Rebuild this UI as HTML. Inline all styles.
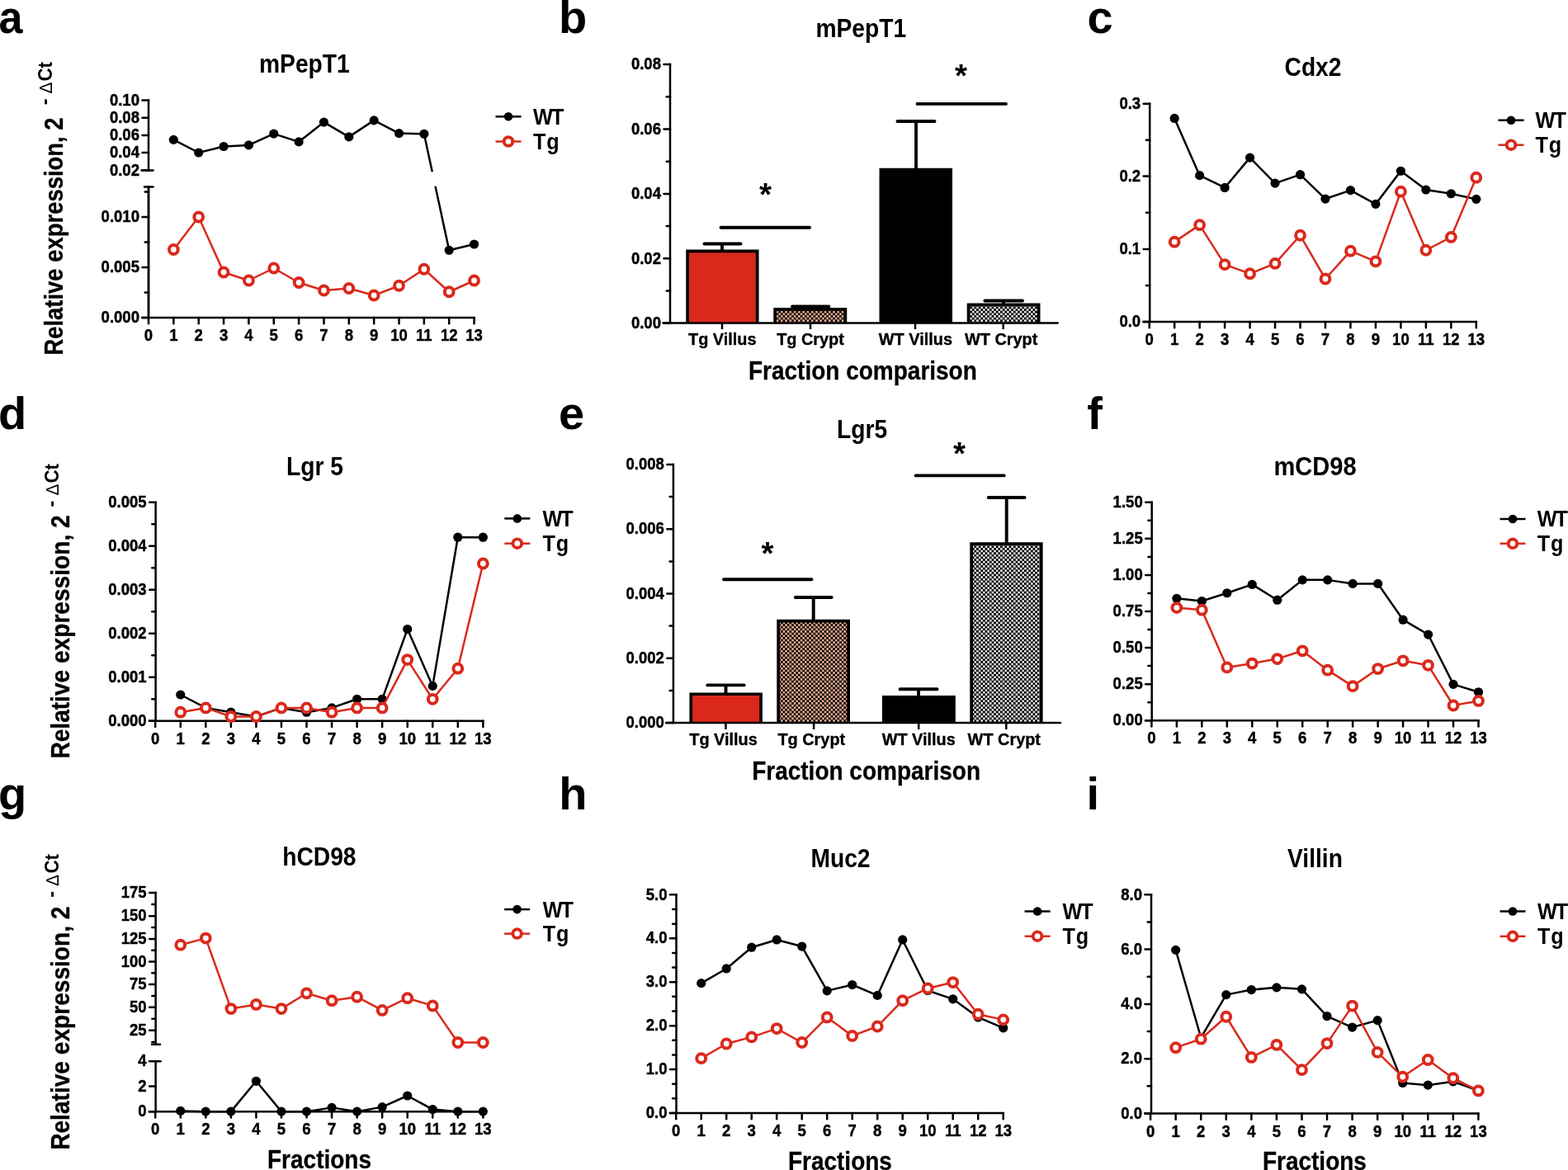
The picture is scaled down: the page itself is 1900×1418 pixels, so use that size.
<!DOCTYPE html>
<html><head><meta charset="utf-8"><title>Figure</title>
<style>
html,body{margin:0;padding:0;background:#fff;overflow:hidden;}
svg{display:block;}
text{font-family:"Liberation Sans",Arial,Helvetica,sans-serif;font-weight:bold;fill:#000;}
</style></head><body>
<svg width="1900" height="1418" viewBox="0 0 1900 1418">
<rect width="1900" height="1418" fill="#fff"/>
<text transform="translate(-1.5,39.8) scale(0.93,1.0)" font-size="56" text-anchor="start">a</text>
<text x="677" y="39.8" font-size="56" text-anchor="start">b</text>
<text x="1317.4" y="39.8" font-size="56" text-anchor="start">c</text>
<text x="-2" y="520.2" font-size="56" text-anchor="start">d</text>
<text x="677" y="520.2" font-size="56" text-anchor="start">e</text>
<text x="1317.2" y="520.2" font-size="56" text-anchor="start">f</text>
<text x="-2" y="980.6" font-size="56" text-anchor="start">g</text>
<text x="677.3" y="980.6" font-size="56" text-anchor="start">h</text>
<text x="1316.5" y="980.6" font-size="56" text-anchor="start">i</text>
<text transform="translate(368.9,88) scale(0.91,1.0)" font-size="31" text-anchor="middle">mPepT1</text>
<line x1="180" y1="121.5" x2="180" y2="206.6" stroke="#000" stroke-width="2.5" stroke-linecap="square"/>
<line x1="172.5" y1="121.5" x2="180" y2="121.5" stroke="#000" stroke-width="2.5" stroke-linecap="round"/>
<text transform="translate(169,127.7) scale(0.905,1.0)" font-size="20.5" text-anchor="end" stroke="#000" stroke-width="0.45">0.10</text>
<line x1="172.5" y1="142.7" x2="180" y2="142.7" stroke="#000" stroke-width="2.5" stroke-linecap="round"/>
<text transform="translate(169,148.9) scale(0.905,1.0)" font-size="20.5" text-anchor="end" stroke="#000" stroke-width="0.45">0.08</text>
<line x1="172.5" y1="163.9" x2="180" y2="163.9" stroke="#000" stroke-width="2.5" stroke-linecap="round"/>
<text transform="translate(169,170.1) scale(0.905,1.0)" font-size="20.5" text-anchor="end" stroke="#000" stroke-width="0.45">0.06</text>
<line x1="172.5" y1="185.1" x2="180" y2="185.1" stroke="#000" stroke-width="2.5" stroke-linecap="round"/>
<text transform="translate(169,191.3) scale(0.905,1.0)" font-size="20.5" text-anchor="end" stroke="#000" stroke-width="0.45">0.04</text>
<line x1="172.5" y1="206.3" x2="180" y2="206.3" stroke="#000" stroke-width="2.5" stroke-linecap="round"/>
<text transform="translate(169,212.5) scale(0.905,1.0)" font-size="20.5" text-anchor="end" stroke="#000" stroke-width="0.45">0.02</text>
<line x1="171.5" y1="206.6" x2="185.5" y2="206.6" stroke="#000" stroke-width="2.5" stroke-linecap="round"/>
<line x1="180" y1="226.4" x2="180" y2="385" stroke="#000" stroke-width="2.5" stroke-linecap="butt"/>
<line x1="175" y1="226.4" x2="185.5" y2="226.4" stroke="#000" stroke-width="2.5" stroke-linecap="round"/>
<line x1="180" y1="226.4" x2="180" y2="385" stroke="#000" stroke-width="2.5" stroke-linecap="square"/>
<line x1="172.5" y1="263" x2="180" y2="263" stroke="#000" stroke-width="2.5" stroke-linecap="round"/>
<text transform="translate(169,269.2) scale(0.905,1.0)" font-size="20.5" text-anchor="end" stroke="#000" stroke-width="0.45">0.010</text>
<line x1="172.5" y1="324" x2="180" y2="324" stroke="#000" stroke-width="2.5" stroke-linecap="round"/>
<text transform="translate(169,330.2) scale(0.905,1.0)" font-size="20.5" text-anchor="end" stroke="#000" stroke-width="0.45">0.005</text>
<line x1="172.5" y1="385" x2="180" y2="385" stroke="#000" stroke-width="2.5" stroke-linecap="round"/>
<text transform="translate(169,391.2) scale(0.905,1.0)" font-size="20.5" text-anchor="end" stroke="#000" stroke-width="0.45">0.000</text>
<line x1="175.7" y1="232.6" x2="180" y2="232.6" stroke="#000" stroke-width="2.5" stroke-linecap="round"/>
<line x1="175.7" y1="293.5" x2="180" y2="293.5" stroke="#000" stroke-width="2.5" stroke-linecap="round"/>
<line x1="175.7" y1="354.5" x2="180" y2="354.5" stroke="#000" stroke-width="2.5" stroke-linecap="round"/>
<line x1="171.2" y1="385" x2="575.8" y2="385" stroke="#000" stroke-width="2.5" stroke-linecap="butt"/>
<line x1="180" y1="385" x2="180" y2="392.2" stroke="#000" stroke-width="2.5" stroke-linecap="round"/>
<text transform="translate(180,413.1) scale(0.905,1.0)" font-size="20.5" text-anchor="middle" stroke="#000" stroke-width="0.45">0</text>
<line x1="210.35" y1="385" x2="210.35" y2="392.2" stroke="#000" stroke-width="2.5" stroke-linecap="round"/>
<text transform="translate(210.35,413.1) scale(0.905,1.0)" font-size="20.5" text-anchor="middle" stroke="#000" stroke-width="0.45">1</text>
<line x1="240.7" y1="385" x2="240.7" y2="392.2" stroke="#000" stroke-width="2.5" stroke-linecap="round"/>
<text transform="translate(240.7,413.1) scale(0.905,1.0)" font-size="20.5" text-anchor="middle" stroke="#000" stroke-width="0.45">2</text>
<line x1="271.05" y1="385" x2="271.05" y2="392.2" stroke="#000" stroke-width="2.5" stroke-linecap="round"/>
<text transform="translate(271.05,413.1) scale(0.905,1.0)" font-size="20.5" text-anchor="middle" stroke="#000" stroke-width="0.45">3</text>
<line x1="301.4" y1="385" x2="301.4" y2="392.2" stroke="#000" stroke-width="2.5" stroke-linecap="round"/>
<text transform="translate(301.4,413.1) scale(0.905,1.0)" font-size="20.5" text-anchor="middle" stroke="#000" stroke-width="0.45">4</text>
<line x1="331.75" y1="385" x2="331.75" y2="392.2" stroke="#000" stroke-width="2.5" stroke-linecap="round"/>
<text transform="translate(331.75,413.1) scale(0.905,1.0)" font-size="20.5" text-anchor="middle" stroke="#000" stroke-width="0.45">5</text>
<line x1="362.1" y1="385" x2="362.1" y2="392.2" stroke="#000" stroke-width="2.5" stroke-linecap="round"/>
<text transform="translate(362.1,413.1) scale(0.905,1.0)" font-size="20.5" text-anchor="middle" stroke="#000" stroke-width="0.45">6</text>
<line x1="392.45" y1="385" x2="392.45" y2="392.2" stroke="#000" stroke-width="2.5" stroke-linecap="round"/>
<text transform="translate(392.45,413.1) scale(0.905,1.0)" font-size="20.5" text-anchor="middle" stroke="#000" stroke-width="0.45">7</text>
<line x1="422.8" y1="385" x2="422.8" y2="392.2" stroke="#000" stroke-width="2.5" stroke-linecap="round"/>
<text transform="translate(422.8,413.1) scale(0.905,1.0)" font-size="20.5" text-anchor="middle" stroke="#000" stroke-width="0.45">8</text>
<line x1="453.15" y1="385" x2="453.15" y2="392.2" stroke="#000" stroke-width="2.5" stroke-linecap="round"/>
<text transform="translate(453.15,413.1) scale(0.905,1.0)" font-size="20.5" text-anchor="middle" stroke="#000" stroke-width="0.45">9</text>
<line x1="483.5" y1="385" x2="483.5" y2="392.2" stroke="#000" stroke-width="2.5" stroke-linecap="round"/>
<text transform="translate(483.5,413.1) scale(0.905,1.0)" font-size="20.5" text-anchor="middle" stroke="#000" stroke-width="0.45">10</text>
<line x1="513.85" y1="385" x2="513.85" y2="392.2" stroke="#000" stroke-width="2.5" stroke-linecap="round"/>
<text transform="translate(513.85,413.1) scale(0.905,1.0)" font-size="20.5" text-anchor="middle" stroke="#000" stroke-width="0.45">11</text>
<line x1="544.2" y1="385" x2="544.2" y2="392.2" stroke="#000" stroke-width="2.5" stroke-linecap="round"/>
<text transform="translate(544.2,413.1) scale(0.905,1.0)" font-size="20.5" text-anchor="middle" stroke="#000" stroke-width="0.45">12</text>
<line x1="574.55" y1="385" x2="574.55" y2="392.2" stroke="#000" stroke-width="2.5" stroke-linecap="round"/>
<text transform="translate(574.55,413.1) scale(0.905,1.0)" font-size="20.5" text-anchor="middle" stroke="#000" stroke-width="0.45">13</text>
<polyline points="210.35,169.4 240.7,185 271.05,177.5 301.4,175.9 331.75,162.1 362.1,171.9 392.45,148.1 422.8,165.9 453.15,145.9 483.5,161.6 513.85,162.25 544.2,303.25 574.55,296" fill="none" stroke="#000" stroke-width="2.5" stroke-linejoin="round"/>
<circle cx="210.35" cy="169.4" r="5.6" fill="#000"/>
<circle cx="240.7" cy="185" r="5.6" fill="#000"/>
<circle cx="271.05" cy="177.5" r="5.6" fill="#000"/>
<circle cx="301.4" cy="175.9" r="5.6" fill="#000"/>
<circle cx="331.75" cy="162.1" r="5.6" fill="#000"/>
<circle cx="362.1" cy="171.9" r="5.6" fill="#000"/>
<circle cx="392.45" cy="148.1" r="5.6" fill="#000"/>
<circle cx="422.8" cy="165.9" r="5.6" fill="#000"/>
<circle cx="453.15" cy="145.9" r="5.6" fill="#000"/>
<circle cx="483.5" cy="161.6" r="5.6" fill="#000"/>
<circle cx="513.85" cy="162.25" r="5.6" fill="#000"/>
<circle cx="544.2" cy="303.25" r="5.6" fill="#000"/>
<circle cx="574.55" cy="296" r="5.6" fill="#000"/>
<rect x="500" y="208.2" width="60" height="17.5" fill="#fff"/>
<polyline points="210.35,302.5 240.7,263 271.05,330 301.4,340 331.75,325 362.1,342.5 392.45,352 422.8,349.5 453.15,358 483.5,346.25 513.85,326.25 544.2,353.75 574.55,340" fill="none" stroke="#DA291C" stroke-width="2.5" stroke-linejoin="round"/>
<circle cx="210.35" cy="302.5" r="5.4" fill="#fff" stroke="#DA291C" stroke-width="4"/>
<circle cx="240.7" cy="263" r="5.4" fill="#fff" stroke="#DA291C" stroke-width="4"/>
<circle cx="271.05" cy="330" r="5.4" fill="#fff" stroke="#DA291C" stroke-width="4"/>
<circle cx="301.4" cy="340" r="5.4" fill="#fff" stroke="#DA291C" stroke-width="4"/>
<circle cx="331.75" cy="325" r="5.4" fill="#fff" stroke="#DA291C" stroke-width="4"/>
<circle cx="362.1" cy="342.5" r="5.4" fill="#fff" stroke="#DA291C" stroke-width="4"/>
<circle cx="392.45" cy="352" r="5.4" fill="#fff" stroke="#DA291C" stroke-width="4"/>
<circle cx="422.8" cy="349.5" r="5.4" fill="#fff" stroke="#DA291C" stroke-width="4"/>
<circle cx="453.15" cy="358" r="5.4" fill="#fff" stroke="#DA291C" stroke-width="4"/>
<circle cx="483.5" cy="346.25" r="5.4" fill="#fff" stroke="#DA291C" stroke-width="4"/>
<circle cx="513.85" cy="326.25" r="5.4" fill="#fff" stroke="#DA291C" stroke-width="4"/>
<circle cx="544.2" cy="353.75" r="5.4" fill="#fff" stroke="#DA291C" stroke-width="4"/>
<circle cx="574.55" cy="340" r="5.4" fill="#fff" stroke="#DA291C" stroke-width="4"/>
<line x1="600.5" y1="141.3" x2="631.5" y2="141.3" stroke="#000" stroke-width="2.5" stroke-linecap="butt"/>
<circle cx="616" cy="141.3" r="5.3" fill="#000"/>
<line x1="600.5" y1="171.5" x2="631.5" y2="171.5" stroke="#DA291C" stroke-width="2.5" stroke-linecap="butt"/>
<circle cx="616" cy="171.5" r="5.3" fill="#fff" stroke="#DA291C" stroke-width="3.9"/>
<text transform="translate(646,150.7) scale(0.94,1.0)" font-size="26.8" text-anchor="start" letter-spacing="-2">WT</text>
<text transform="translate(646,180.7) scale(0.94,1.0)" font-size="26.8" text-anchor="start" letter-spacing="1">Tg</text>
<text transform="translate(75.5,430.6) rotate(-90) scale(0.885,1)" font-size="31" text-anchor="start" stroke="#000" stroke-width="0.3">Relative expression, 2</text>
<text transform="translate(62.1,127.2) rotate(-90) scale(0.97,1)" font-size="24" text-anchor="start">-</text>
<text transform="translate(62.6,113.4) rotate(-90) scale(0.93,1)" font-size="22.5" text-anchor="start" style="font-weight:normal">&#916;</text>
<text transform="translate(62.6,98.6) rotate(-90) scale(0.915,1)" font-size="24.3" text-anchor="start">Ct</text>
<defs>
<pattern id="chkR" width="5.27" height="5.27" patternUnits="userSpaceOnUse"><rect width="5.27" height="5.27" fill="#000"/><rect x="0.0674999999999999" y="0.0674999999999999" width="2.5" height="2.5" fill="#FCBB9C"/><rect x="2.7024999999999997" y="2.7024999999999997" width="2.5" height="2.5" fill="#FCBB9C"/></pattern>
<pattern id="chkK" width="5.27" height="5.27" patternUnits="userSpaceOnUse"><rect width="5.27" height="5.27" fill="#000"/><rect x="0.0924999999999998" y="0.0924999999999998" width="2.45" height="2.45" fill="#fff"/><rect x="2.7274999999999996" y="2.7274999999999996" width="2.45" height="2.45" fill="#fff"/></pattern>
</defs>
<text transform="translate(1043.3,44.8) scale(0.91,1.0)" font-size="31" text-anchor="middle">mPepT1</text>
<line x1="812" y1="78" x2="812" y2="391.5" stroke="#000" stroke-width="2.5" stroke-linecap="square"/>
<line x1="804.5" y1="78" x2="812" y2="78" stroke="#000" stroke-width="2.5" stroke-linecap="round"/>
<text transform="translate(801,84.2) scale(0.905,1.0)" font-size="20.5" text-anchor="end" stroke="#000" stroke-width="0.45">0.08</text>
<line x1="804.5" y1="156.5" x2="812" y2="156.5" stroke="#000" stroke-width="2.5" stroke-linecap="round"/>
<text transform="translate(801,162.7) scale(0.905,1.0)" font-size="20.5" text-anchor="end" stroke="#000" stroke-width="0.45">0.06</text>
<line x1="804.5" y1="235" x2="812" y2="235" stroke="#000" stroke-width="2.5" stroke-linecap="round"/>
<text transform="translate(801,241.2) scale(0.905,1.0)" font-size="20.5" text-anchor="end" stroke="#000" stroke-width="0.45">0.04</text>
<line x1="804.5" y1="313.3" x2="812" y2="313.3" stroke="#000" stroke-width="2.5" stroke-linecap="round"/>
<text transform="translate(801,319.5) scale(0.905,1.0)" font-size="20.5" text-anchor="end" stroke="#000" stroke-width="0.45">0.02</text>
<line x1="804.5" y1="391.5" x2="812" y2="391.5" stroke="#000" stroke-width="2.5" stroke-linecap="round"/>
<text transform="translate(801,397.7) scale(0.905,1.0)" font-size="20.5" text-anchor="end" stroke="#000" stroke-width="0.45">0.00</text>
<line x1="807.7" y1="117.3" x2="812" y2="117.3" stroke="#000" stroke-width="2.5" stroke-linecap="round"/>
<line x1="807.7" y1="195.8" x2="812" y2="195.8" stroke="#000" stroke-width="2.5" stroke-linecap="round"/>
<line x1="807.7" y1="274" x2="812" y2="274" stroke="#000" stroke-width="2.5" stroke-linecap="round"/>
<line x1="807.7" y1="352.5" x2="812" y2="352.5" stroke="#000" stroke-width="2.5" stroke-linecap="round"/>
<line x1="875" y1="295.5" x2="875" y2="303" stroke="#000" stroke-width="3.9" stroke-linecap="butt"/>
<line x1="853.5" y1="295.5" x2="897.5" y2="295.5" stroke="#000" stroke-width="3.9" stroke-linecap="round"/>
<rect x="833.1" y="304.35" width="84.55" height="87.15" fill="#DA291C"/>
<path d="M833.1,391.5V304.35H917.65V391.5" fill="none" stroke="#000" stroke-width="3.7"/>
<line x1="982" y1="371.5" x2="982" y2="373" stroke="#000" stroke-width="3.9" stroke-linecap="butt"/>
<line x1="960" y1="371.5" x2="1004.25" y2="371.5" stroke="#000" stroke-width="3.9" stroke-linecap="round"/>
<rect x="939.15" y="374.85" width="85.25" height="16.65" fill="url(#chkR)"/>
<path d="M939.15,391.5V374.85H1024.4V391.5" fill="none" stroke="#000" stroke-width="3.7"/>
<line x1="1110" y1="147" x2="1110" y2="204" stroke="#000" stroke-width="3.9" stroke-linecap="butt"/>
<line x1="1087.5" y1="147" x2="1132.5" y2="147" stroke="#000" stroke-width="3.9" stroke-linecap="round"/>
<rect x="1067.35" y="205.6" width="84.8" height="185.9" fill="#000"/>
<path d="M1067.35,391.5V205.6H1152.15V391.5" fill="none" stroke="#000" stroke-width="3.7"/>
<line x1="1216" y1="364.5" x2="1216" y2="368" stroke="#000" stroke-width="3.9" stroke-linecap="butt"/>
<line x1="1193.4" y1="364.5" x2="1239" y2="364.5" stroke="#000" stroke-width="3.9" stroke-linecap="round"/>
<rect x="1173.55" y="369.35" width="85.1" height="22.15" fill="url(#chkK)"/>
<path d="M1173.55,391.5V369.35H1258.65V391.5" fill="none" stroke="#000" stroke-width="3.7"/>
<line x1="803.5" y1="391.5" x2="1281.6" y2="391.5" stroke="#000" stroke-width="2.5" stroke-linecap="round"/>
<line x1="875" y1="391.5" x2="875" y2="399" stroke="#000" stroke-width="2.5" stroke-linecap="butt"/>
<text transform="translate(875.25,417.7) scale(0.985,1.0)" font-size="20.2" text-anchor="middle" stroke="#000" stroke-width="0.35">Tg Villus</text>
<line x1="982" y1="391.5" x2="982" y2="399" stroke="#000" stroke-width="2.5" stroke-linecap="butt"/>
<text transform="translate(982,417.7) scale(0.985,1.0)" font-size="20.2" text-anchor="middle" stroke="#000" stroke-width="0.35">Tg Crypt</text>
<line x1="1109" y1="391.5" x2="1109" y2="399" stroke="#000" stroke-width="2.5" stroke-linecap="butt"/>
<text transform="translate(1109.4,417.7) scale(0.985,1.0)" font-size="20.2" text-anchor="middle" stroke="#000" stroke-width="0.35">WT Villus</text>
<line x1="1215.7" y1="391.5" x2="1215.7" y2="399" stroke="#000" stroke-width="2.5" stroke-linecap="butt"/>
<text transform="translate(1213.2,417.7) scale(0.985,1.0)" font-size="20.2" text-anchor="middle" stroke="#000" stroke-width="0.35">WT Crypt</text>
<line x1="873.5" y1="275.75" x2="981" y2="275.75" stroke="#000" stroke-width="3.9" stroke-linecap="round"/>
<text x="927.4" y="249.4" font-size="38.5" text-anchor="middle">*</text>
<line x1="1111.5" y1="125.9" x2="1219" y2="125.9" stroke="#000" stroke-width="3.9" stroke-linecap="round"/>
<text x="1164.4" y="104.9" font-size="38.5" text-anchor="middle">*</text>
<text transform="translate(1045.4,460.3) scale(0.918,1.0)" font-size="30.5" text-anchor="middle" stroke="#000" stroke-width="0.3">Fraction comparison</text>
<text transform="translate(1044.6,530.5) scale(0.91,1.0)" font-size="31" text-anchor="middle">Lgr5</text>
<line x1="815.9" y1="563" x2="815.9" y2="876" stroke="#000" stroke-width="2.5" stroke-linecap="square"/>
<line x1="808.4" y1="876" x2="815.9" y2="876" stroke="#000" stroke-width="2.5" stroke-linecap="round"/>
<text transform="translate(804.9,882.2) scale(0.905,1.0)" font-size="20.5" text-anchor="end" stroke="#000" stroke-width="0.45">0.000</text>
<line x1="808.4" y1="797.75" x2="815.9" y2="797.75" stroke="#000" stroke-width="2.5" stroke-linecap="round"/>
<text transform="translate(804.9,803.95) scale(0.905,1.0)" font-size="20.5" text-anchor="end" stroke="#000" stroke-width="0.45">0.002</text>
<line x1="808.4" y1="719.5" x2="815.9" y2="719.5" stroke="#000" stroke-width="2.5" stroke-linecap="round"/>
<text transform="translate(804.9,725.7) scale(0.905,1.0)" font-size="20.5" text-anchor="end" stroke="#000" stroke-width="0.45">0.004</text>
<line x1="808.4" y1="641.25" x2="815.9" y2="641.25" stroke="#000" stroke-width="2.5" stroke-linecap="round"/>
<text transform="translate(804.9,647.45) scale(0.905,1.0)" font-size="20.5" text-anchor="end" stroke="#000" stroke-width="0.45">0.006</text>
<line x1="808.4" y1="563" x2="815.9" y2="563" stroke="#000" stroke-width="2.5" stroke-linecap="round"/>
<text transform="translate(804.9,569.2) scale(0.905,1.0)" font-size="20.5" text-anchor="end" stroke="#000" stroke-width="0.45">0.008</text>
<line x1="811.6" y1="836.88" x2="815.9" y2="836.88" stroke="#000" stroke-width="2.5" stroke-linecap="round"/>
<line x1="811.6" y1="758.62" x2="815.9" y2="758.62" stroke="#000" stroke-width="2.5" stroke-linecap="round"/>
<line x1="811.6" y1="680.38" x2="815.9" y2="680.38" stroke="#000" stroke-width="2.5" stroke-linecap="round"/>
<line x1="811.6" y1="602.12" x2="815.9" y2="602.12" stroke="#000" stroke-width="2.5" stroke-linecap="round"/>
<line x1="879.5" y1="830.4" x2="879.5" y2="841" stroke="#000" stroke-width="3.9" stroke-linecap="butt"/>
<line x1="857.3" y1="830.4" x2="901.6" y2="830.4" stroke="#000" stroke-width="3.9" stroke-linecap="round"/>
<rect x="837.25" y="841.25" width="84.8" height="34.75" fill="#DA291C"/>
<path d="M837.25,876V841.25H922.05V876" fill="none" stroke="#000" stroke-width="3.7"/>
<line x1="985.7" y1="724" x2="985.7" y2="752" stroke="#000" stroke-width="3.9" stroke-linecap="butt"/>
<line x1="963.8" y1="724" x2="1007.6" y2="724" stroke="#000" stroke-width="3.9" stroke-linecap="round"/>
<rect x="943.15" y="752.55" width="85" height="123.45" fill="url(#chkR)"/>
<path d="M943.15,876V752.55H1028.15V876" fill="none" stroke="#000" stroke-width="3.7"/>
<line x1="1113" y1="835.2" x2="1113" y2="844" stroke="#000" stroke-width="3.9" stroke-linecap="butt"/>
<line x1="1090.6" y1="835.2" x2="1135.5" y2="835.2" stroke="#000" stroke-width="3.9" stroke-linecap="round"/>
<rect x="1070.75" y="844.75" width="85.2" height="31.25" fill="#000"/>
<path d="M1070.75,876V844.75H1155.95V876" fill="none" stroke="#000" stroke-width="3.7"/>
<line x1="1219.7" y1="603" x2="1219.7" y2="659" stroke="#000" stroke-width="3.9" stroke-linecap="butt"/>
<line x1="1197.7" y1="603" x2="1241.6" y2="603" stroke="#000" stroke-width="3.9" stroke-linecap="round"/>
<rect x="1177.15" y="659.15" width="84.6" height="216.85" fill="url(#chkK)"/>
<path d="M1177.15,876V659.15H1261.75V876" fill="none" stroke="#000" stroke-width="3.7"/>
<line x1="807" y1="876" x2="1285" y2="876" stroke="#000" stroke-width="2.5" stroke-linecap="round"/>
<line x1="879.4" y1="876" x2="879.4" y2="884" stroke="#000" stroke-width="2.5" stroke-linecap="butt"/>
<text transform="translate(876.5,902.7) scale(0.985,1.0)" font-size="20.2" text-anchor="middle" stroke="#000" stroke-width="0.35">Tg Villus</text>
<line x1="986.1" y1="876" x2="986.1" y2="884" stroke="#000" stroke-width="2.5" stroke-linecap="butt"/>
<text transform="translate(983.3,902.7) scale(0.985,1.0)" font-size="20.2" text-anchor="middle" stroke="#000" stroke-width="0.35">Tg Crypt</text>
<line x1="1113.2" y1="876" x2="1113.2" y2="884" stroke="#000" stroke-width="2.5" stroke-linecap="butt"/>
<text transform="translate(1113.2,902.7) scale(0.985,1.0)" font-size="20.2" text-anchor="middle" stroke="#000" stroke-width="0.35">WT Villus</text>
<line x1="1219.3" y1="876" x2="1219.3" y2="884" stroke="#000" stroke-width="2.5" stroke-linecap="butt"/>
<text transform="translate(1216.8,902.7) scale(0.985,1.0)" font-size="20.2" text-anchor="middle" stroke="#000" stroke-width="0.35">WT Crypt</text>
<line x1="877" y1="702.2" x2="983.4" y2="702.2" stroke="#000" stroke-width="3.9" stroke-linecap="round"/>
<text x="929.9" y="683.7" font-size="38.5" text-anchor="middle">*</text>
<line x1="1109.6" y1="576.4" x2="1216.7" y2="576.4" stroke="#000" stroke-width="3.9" stroke-linecap="round"/>
<text x="1162.6" y="563" font-size="38.5" text-anchor="middle">*</text>
<text transform="translate(1049.6,945) scale(0.918,1.0)" font-size="30.5" text-anchor="middle" stroke="#000" stroke-width="0.3">Fraction comparison</text>
<text transform="translate(1591,92) scale(0.91,1.0)" font-size="31" text-anchor="middle">Cdx2</text>
<line x1="1393.2" y1="125.8" x2="1393.2" y2="390.1" stroke="#000" stroke-width="2.5" stroke-linecap="square"/>
<line x1="1385.7" y1="125.8" x2="1393.2" y2="125.8" stroke="#000" stroke-width="2.5" stroke-linecap="round"/>
<text transform="translate(1382.2,132) scale(0.905,1.0)" font-size="20.5" text-anchor="end" stroke="#000" stroke-width="0.45">0.3</text>
<line x1="1385.7" y1="213.6" x2="1393.2" y2="213.6" stroke="#000" stroke-width="2.5" stroke-linecap="round"/>
<text transform="translate(1382.2,219.8) scale(0.905,1.0)" font-size="20.5" text-anchor="end" stroke="#000" stroke-width="0.45">0.2</text>
<line x1="1385.7" y1="302" x2="1393.2" y2="302" stroke="#000" stroke-width="2.5" stroke-linecap="round"/>
<text transform="translate(1382.2,308.2) scale(0.905,1.0)" font-size="20.5" text-anchor="end" stroke="#000" stroke-width="0.45">0.1</text>
<line x1="1385.7" y1="390.1" x2="1393.2" y2="390.1" stroke="#000" stroke-width="2.5" stroke-linecap="round"/>
<text transform="translate(1382.2,396.3) scale(0.905,1.0)" font-size="20.5" text-anchor="end" stroke="#000" stroke-width="0.45">0.0</text>
<line x1="1388.9" y1="169.7" x2="1393.2" y2="169.7" stroke="#000" stroke-width="2.5" stroke-linecap="round"/>
<line x1="1388.9" y1="257.8" x2="1393.2" y2="257.8" stroke="#000" stroke-width="2.5" stroke-linecap="round"/>
<line x1="1388.9" y1="346" x2="1393.2" y2="346" stroke="#000" stroke-width="2.5" stroke-linecap="round"/>
<line x1="1384.4" y1="390.1" x2="1790.06" y2="390.1" stroke="#000" stroke-width="2.5" stroke-linecap="butt"/>
<line x1="1392.7" y1="390.1" x2="1392.7" y2="397.3" stroke="#000" stroke-width="2.5" stroke-linecap="round"/>
<text transform="translate(1392.7,418.2) scale(0.905,1.0)" font-size="20.5" text-anchor="middle" stroke="#000" stroke-width="0.45">0</text>
<line x1="1423.17" y1="390.1" x2="1423.17" y2="397.3" stroke="#000" stroke-width="2.5" stroke-linecap="round"/>
<text transform="translate(1423.17,418.2) scale(0.905,1.0)" font-size="20.5" text-anchor="middle" stroke="#000" stroke-width="0.45">1</text>
<line x1="1453.64" y1="390.1" x2="1453.64" y2="397.3" stroke="#000" stroke-width="2.5" stroke-linecap="round"/>
<text transform="translate(1453.64,418.2) scale(0.905,1.0)" font-size="20.5" text-anchor="middle" stroke="#000" stroke-width="0.45">2</text>
<line x1="1484.11" y1="390.1" x2="1484.11" y2="397.3" stroke="#000" stroke-width="2.5" stroke-linecap="round"/>
<text transform="translate(1484.11,418.2) scale(0.905,1.0)" font-size="20.5" text-anchor="middle" stroke="#000" stroke-width="0.45">3</text>
<line x1="1514.58" y1="390.1" x2="1514.58" y2="397.3" stroke="#000" stroke-width="2.5" stroke-linecap="round"/>
<text transform="translate(1514.58,418.2) scale(0.905,1.0)" font-size="20.5" text-anchor="middle" stroke="#000" stroke-width="0.45">4</text>
<line x1="1545.05" y1="390.1" x2="1545.05" y2="397.3" stroke="#000" stroke-width="2.5" stroke-linecap="round"/>
<text transform="translate(1545.05,418.2) scale(0.905,1.0)" font-size="20.5" text-anchor="middle" stroke="#000" stroke-width="0.45">5</text>
<line x1="1575.52" y1="390.1" x2="1575.52" y2="397.3" stroke="#000" stroke-width="2.5" stroke-linecap="round"/>
<text transform="translate(1575.52,418.2) scale(0.905,1.0)" font-size="20.5" text-anchor="middle" stroke="#000" stroke-width="0.45">6</text>
<line x1="1605.99" y1="390.1" x2="1605.99" y2="397.3" stroke="#000" stroke-width="2.5" stroke-linecap="round"/>
<text transform="translate(1605.99,418.2) scale(0.905,1.0)" font-size="20.5" text-anchor="middle" stroke="#000" stroke-width="0.45">7</text>
<line x1="1636.46" y1="390.1" x2="1636.46" y2="397.3" stroke="#000" stroke-width="2.5" stroke-linecap="round"/>
<text transform="translate(1636.46,418.2) scale(0.905,1.0)" font-size="20.5" text-anchor="middle" stroke="#000" stroke-width="0.45">8</text>
<line x1="1666.93" y1="390.1" x2="1666.93" y2="397.3" stroke="#000" stroke-width="2.5" stroke-linecap="round"/>
<text transform="translate(1666.93,418.2) scale(0.905,1.0)" font-size="20.5" text-anchor="middle" stroke="#000" stroke-width="0.45">9</text>
<line x1="1697.4" y1="390.1" x2="1697.4" y2="397.3" stroke="#000" stroke-width="2.5" stroke-linecap="round"/>
<text transform="translate(1697.4,418.2) scale(0.905,1.0)" font-size="20.5" text-anchor="middle" stroke="#000" stroke-width="0.45">10</text>
<line x1="1727.87" y1="390.1" x2="1727.87" y2="397.3" stroke="#000" stroke-width="2.5" stroke-linecap="round"/>
<text transform="translate(1727.87,418.2) scale(0.905,1.0)" font-size="20.5" text-anchor="middle" stroke="#000" stroke-width="0.45">11</text>
<line x1="1758.34" y1="390.1" x2="1758.34" y2="397.3" stroke="#000" stroke-width="2.5" stroke-linecap="round"/>
<text transform="translate(1758.34,418.2) scale(0.905,1.0)" font-size="20.5" text-anchor="middle" stroke="#000" stroke-width="0.45">12</text>
<line x1="1788.81" y1="390.1" x2="1788.81" y2="397.3" stroke="#000" stroke-width="2.5" stroke-linecap="round"/>
<text transform="translate(1788.81,418.2) scale(0.905,1.0)" font-size="20.5" text-anchor="middle" stroke="#000" stroke-width="0.45">13</text>
<polyline points="1423.17,143.47 1453.64,212.63 1484.11,227.47 1514.58,191.16 1545.05,222.1 1575.52,211.68 1605.99,241.05 1636.46,230.63 1666.93,247.37 1697.4,207.26 1727.87,230 1758.34,234.73 1788.81,241.37" fill="none" stroke="#000" stroke-width="2.5" stroke-linejoin="round"/>
<circle cx="1423.17" cy="143.47" r="5.6" fill="#000"/>
<circle cx="1453.64" cy="212.63" r="5.6" fill="#000"/>
<circle cx="1484.11" cy="227.47" r="5.6" fill="#000"/>
<circle cx="1514.58" cy="191.16" r="5.6" fill="#000"/>
<circle cx="1545.05" cy="222.1" r="5.6" fill="#000"/>
<circle cx="1575.52" cy="211.68" r="5.6" fill="#000"/>
<circle cx="1605.99" cy="241.05" r="5.6" fill="#000"/>
<circle cx="1636.46" cy="230.63" r="5.6" fill="#000"/>
<circle cx="1666.93" cy="247.37" r="5.6" fill="#000"/>
<circle cx="1697.4" cy="207.26" r="5.6" fill="#000"/>
<circle cx="1727.87" cy="230" r="5.6" fill="#000"/>
<circle cx="1758.34" cy="234.73" r="5.6" fill="#000"/>
<circle cx="1788.81" cy="241.37" r="5.6" fill="#000"/>
<polyline points="1423.17,293.16 1453.64,272.63 1484.11,320.63 1514.58,331.68 1545.05,319.37 1575.52,285.26 1605.99,338 1636.46,304.21 1666.93,316.84 1697.4,232.21 1727.87,303.26 1758.34,287.47 1788.81,215.16" fill="none" stroke="#DA291C" stroke-width="2.5" stroke-linejoin="round"/>
<circle cx="1423.17" cy="293.16" r="5.4" fill="#fff" stroke="#DA291C" stroke-width="4"/>
<circle cx="1453.64" cy="272.63" r="5.4" fill="#fff" stroke="#DA291C" stroke-width="4"/>
<circle cx="1484.11" cy="320.63" r="5.4" fill="#fff" stroke="#DA291C" stroke-width="4"/>
<circle cx="1514.58" cy="331.68" r="5.4" fill="#fff" stroke="#DA291C" stroke-width="4"/>
<circle cx="1545.05" cy="319.37" r="5.4" fill="#fff" stroke="#DA291C" stroke-width="4"/>
<circle cx="1575.52" cy="285.26" r="5.4" fill="#fff" stroke="#DA291C" stroke-width="4"/>
<circle cx="1605.99" cy="338" r="5.4" fill="#fff" stroke="#DA291C" stroke-width="4"/>
<circle cx="1636.46" cy="304.21" r="5.4" fill="#fff" stroke="#DA291C" stroke-width="4"/>
<circle cx="1666.93" cy="316.84" r="5.4" fill="#fff" stroke="#DA291C" stroke-width="4"/>
<circle cx="1697.4" cy="232.21" r="5.4" fill="#fff" stroke="#DA291C" stroke-width="4"/>
<circle cx="1727.87" cy="303.26" r="5.4" fill="#fff" stroke="#DA291C" stroke-width="4"/>
<circle cx="1758.34" cy="287.47" r="5.4" fill="#fff" stroke="#DA291C" stroke-width="4"/>
<circle cx="1788.81" cy="215.16" r="5.4" fill="#fff" stroke="#DA291C" stroke-width="4"/>
<line x1="1815.5" y1="145.7" x2="1846.5" y2="145.7" stroke="#000" stroke-width="2.5" stroke-linecap="butt"/>
<circle cx="1831" cy="145.7" r="5.3" fill="#000"/>
<line x1="1815.5" y1="175.7" x2="1846.5" y2="175.7" stroke="#DA291C" stroke-width="2.5" stroke-linecap="butt"/>
<circle cx="1831" cy="175.7" r="5.3" fill="#fff" stroke="#DA291C" stroke-width="3.9"/>
<text transform="translate(1860.5,155.1) scale(0.94,1.0)" font-size="26.8" text-anchor="start" letter-spacing="-2">WT</text>
<text transform="translate(1860.5,184.9) scale(0.94,1.0)" font-size="26.8" text-anchor="start" letter-spacing="1">Tg</text>
<text transform="translate(381.5,575.7) scale(0.91,1.0)" font-size="31" text-anchor="middle">Lgr 5</text>
<line x1="188.6" y1="608.9" x2="188.6" y2="873.8" stroke="#000" stroke-width="2.5" stroke-linecap="square"/>
<line x1="181.1" y1="873.8" x2="188.6" y2="873.8" stroke="#000" stroke-width="2.5" stroke-linecap="round"/>
<text transform="translate(177.6,880) scale(0.905,1.0)" font-size="20.5" text-anchor="end" stroke="#000" stroke-width="0.45">0.000</text>
<line x1="181.1" y1="820.8" x2="188.6" y2="820.8" stroke="#000" stroke-width="2.5" stroke-linecap="round"/>
<text transform="translate(177.6,827) scale(0.905,1.0)" font-size="20.5" text-anchor="end" stroke="#000" stroke-width="0.45">0.001</text>
<line x1="181.1" y1="767.8" x2="188.6" y2="767.8" stroke="#000" stroke-width="2.5" stroke-linecap="round"/>
<text transform="translate(177.6,774) scale(0.905,1.0)" font-size="20.5" text-anchor="end" stroke="#000" stroke-width="0.45">0.002</text>
<line x1="181.1" y1="714.8" x2="188.6" y2="714.8" stroke="#000" stroke-width="2.5" stroke-linecap="round"/>
<text transform="translate(177.6,721) scale(0.905,1.0)" font-size="20.5" text-anchor="end" stroke="#000" stroke-width="0.45">0.003</text>
<line x1="181.1" y1="661.8" x2="188.6" y2="661.8" stroke="#000" stroke-width="2.5" stroke-linecap="round"/>
<text transform="translate(177.6,668) scale(0.905,1.0)" font-size="20.5" text-anchor="end" stroke="#000" stroke-width="0.45">0.004</text>
<line x1="181.1" y1="608.8" x2="188.6" y2="608.8" stroke="#000" stroke-width="2.5" stroke-linecap="round"/>
<text transform="translate(177.6,615) scale(0.905,1.0)" font-size="20.5" text-anchor="end" stroke="#000" stroke-width="0.45">0.005</text>
<line x1="184.3" y1="847.3" x2="188.6" y2="847.3" stroke="#000" stroke-width="2.5" stroke-linecap="round"/>
<line x1="184.3" y1="794.3" x2="188.6" y2="794.3" stroke="#000" stroke-width="2.5" stroke-linecap="round"/>
<line x1="184.3" y1="741.3" x2="188.6" y2="741.3" stroke="#000" stroke-width="2.5" stroke-linecap="round"/>
<line x1="184.3" y1="688.3" x2="188.6" y2="688.3" stroke="#000" stroke-width="2.5" stroke-linecap="round"/>
<line x1="184.3" y1="635.3" x2="188.6" y2="635.3" stroke="#000" stroke-width="2.5" stroke-linecap="round"/>
<line x1="179.8" y1="873.8" x2="586.6" y2="873.8" stroke="#000" stroke-width="2.5" stroke-linecap="butt"/>
<line x1="188.2" y1="873.8" x2="188.2" y2="881" stroke="#000" stroke-width="2.5" stroke-linecap="round"/>
<text transform="translate(188.2,901.9) scale(0.905,1.0)" font-size="20.5" text-anchor="middle" stroke="#000" stroke-width="0.45">0</text>
<line x1="218.75" y1="873.8" x2="218.75" y2="881" stroke="#000" stroke-width="2.5" stroke-linecap="round"/>
<text transform="translate(218.75,901.9) scale(0.905,1.0)" font-size="20.5" text-anchor="middle" stroke="#000" stroke-width="0.45">1</text>
<line x1="249.3" y1="873.8" x2="249.3" y2="881" stroke="#000" stroke-width="2.5" stroke-linecap="round"/>
<text transform="translate(249.3,901.9) scale(0.905,1.0)" font-size="20.5" text-anchor="middle" stroke="#000" stroke-width="0.45">2</text>
<line x1="279.85" y1="873.8" x2="279.85" y2="881" stroke="#000" stroke-width="2.5" stroke-linecap="round"/>
<text transform="translate(279.85,901.9) scale(0.905,1.0)" font-size="20.5" text-anchor="middle" stroke="#000" stroke-width="0.45">3</text>
<line x1="310.4" y1="873.8" x2="310.4" y2="881" stroke="#000" stroke-width="2.5" stroke-linecap="round"/>
<text transform="translate(310.4,901.9) scale(0.905,1.0)" font-size="20.5" text-anchor="middle" stroke="#000" stroke-width="0.45">4</text>
<line x1="340.95" y1="873.8" x2="340.95" y2="881" stroke="#000" stroke-width="2.5" stroke-linecap="round"/>
<text transform="translate(340.95,901.9) scale(0.905,1.0)" font-size="20.5" text-anchor="middle" stroke="#000" stroke-width="0.45">5</text>
<line x1="371.5" y1="873.8" x2="371.5" y2="881" stroke="#000" stroke-width="2.5" stroke-linecap="round"/>
<text transform="translate(371.5,901.9) scale(0.905,1.0)" font-size="20.5" text-anchor="middle" stroke="#000" stroke-width="0.45">6</text>
<line x1="402.05" y1="873.8" x2="402.05" y2="881" stroke="#000" stroke-width="2.5" stroke-linecap="round"/>
<text transform="translate(402.05,901.9) scale(0.905,1.0)" font-size="20.5" text-anchor="middle" stroke="#000" stroke-width="0.45">7</text>
<line x1="432.6" y1="873.8" x2="432.6" y2="881" stroke="#000" stroke-width="2.5" stroke-linecap="round"/>
<text transform="translate(432.6,901.9) scale(0.905,1.0)" font-size="20.5" text-anchor="middle" stroke="#000" stroke-width="0.45">8</text>
<line x1="463.15" y1="873.8" x2="463.15" y2="881" stroke="#000" stroke-width="2.5" stroke-linecap="round"/>
<text transform="translate(463.15,901.9) scale(0.905,1.0)" font-size="20.5" text-anchor="middle" stroke="#000" stroke-width="0.45">9</text>
<line x1="493.7" y1="873.8" x2="493.7" y2="881" stroke="#000" stroke-width="2.5" stroke-linecap="round"/>
<text transform="translate(493.7,901.9) scale(0.905,1.0)" font-size="20.5" text-anchor="middle" stroke="#000" stroke-width="0.45">10</text>
<line x1="524.25" y1="873.8" x2="524.25" y2="881" stroke="#000" stroke-width="2.5" stroke-linecap="round"/>
<text transform="translate(524.25,901.9) scale(0.905,1.0)" font-size="20.5" text-anchor="middle" stroke="#000" stroke-width="0.45">11</text>
<line x1="554.8" y1="873.8" x2="554.8" y2="881" stroke="#000" stroke-width="2.5" stroke-linecap="round"/>
<text transform="translate(554.8,901.9) scale(0.905,1.0)" font-size="20.5" text-anchor="middle" stroke="#000" stroke-width="0.45">12</text>
<line x1="585.35" y1="873.8" x2="585.35" y2="881" stroke="#000" stroke-width="2.5" stroke-linecap="round"/>
<text transform="translate(585.35,901.9) scale(0.905,1.0)" font-size="20.5" text-anchor="middle" stroke="#000" stroke-width="0.45">13</text>
<polyline points="218.75,842 249.3,857.9 279.85,863.2 310.4,868.5 340.95,857.9 371.5,863.2 402.05,857.9 432.6,847.3 463.15,847.3 493.7,762.5 524.25,831.4 554.8,651.2 585.35,651.2" fill="none" stroke="#000" stroke-width="2.5" stroke-linejoin="round"/>
<circle cx="218.75" cy="842" r="5.6" fill="#000"/>
<circle cx="249.3" cy="857.9" r="5.6" fill="#000"/>
<circle cx="279.85" cy="863.2" r="5.6" fill="#000"/>
<circle cx="310.4" cy="868.5" r="5.6" fill="#000"/>
<circle cx="340.95" cy="857.9" r="5.6" fill="#000"/>
<circle cx="371.5" cy="863.2" r="5.6" fill="#000"/>
<circle cx="402.05" cy="857.9" r="5.6" fill="#000"/>
<circle cx="432.6" cy="847.3" r="5.6" fill="#000"/>
<circle cx="463.15" cy="847.3" r="5.6" fill="#000"/>
<circle cx="493.7" cy="762.5" r="5.6" fill="#000"/>
<circle cx="524.25" cy="831.4" r="5.6" fill="#000"/>
<circle cx="554.8" cy="651.2" r="5.6" fill="#000"/>
<circle cx="585.35" cy="651.2" r="5.6" fill="#000"/>
<polyline points="218.75,863.2 249.3,857.9 279.85,868.5 310.4,868.5 340.95,857.9 371.5,857.9 402.05,863.2 432.6,857.9 463.15,857.9 493.7,799.6 524.25,847.3 554.8,810.2 585.35,683" fill="none" stroke="#DA291C" stroke-width="2.5" stroke-linejoin="round"/>
<circle cx="218.75" cy="863.2" r="5.4" fill="#fff" stroke="#DA291C" stroke-width="4"/>
<circle cx="249.3" cy="857.9" r="5.4" fill="#fff" stroke="#DA291C" stroke-width="4"/>
<circle cx="279.85" cy="868.5" r="5.4" fill="#fff" stroke="#DA291C" stroke-width="4"/>
<circle cx="310.4" cy="868.5" r="5.4" fill="#fff" stroke="#DA291C" stroke-width="4"/>
<circle cx="340.95" cy="857.9" r="5.4" fill="#fff" stroke="#DA291C" stroke-width="4"/>
<circle cx="371.5" cy="857.9" r="5.4" fill="#fff" stroke="#DA291C" stroke-width="4"/>
<circle cx="402.05" cy="863.2" r="5.4" fill="#fff" stroke="#DA291C" stroke-width="4"/>
<circle cx="432.6" cy="857.9" r="5.4" fill="#fff" stroke="#DA291C" stroke-width="4"/>
<circle cx="463.15" cy="857.9" r="5.4" fill="#fff" stroke="#DA291C" stroke-width="4"/>
<circle cx="493.7" cy="799.6" r="5.4" fill="#fff" stroke="#DA291C" stroke-width="4"/>
<circle cx="524.25" cy="847.3" r="5.4" fill="#fff" stroke="#DA291C" stroke-width="4"/>
<circle cx="554.8" cy="810.2" r="5.4" fill="#fff" stroke="#DA291C" stroke-width="4"/>
<circle cx="585.35" cy="683" r="5.4" fill="#fff" stroke="#DA291C" stroke-width="4"/>
<line x1="611.3" y1="628.4" x2="642.3" y2="628.4" stroke="#000" stroke-width="2.5" stroke-linecap="butt"/>
<circle cx="626.8" cy="628.4" r="5.3" fill="#000"/>
<line x1="611.3" y1="658.7" x2="642.3" y2="658.7" stroke="#DA291C" stroke-width="2.5" stroke-linecap="butt"/>
<circle cx="626.8" cy="658.7" r="5.3" fill="#fff" stroke="#DA291C" stroke-width="3.9"/>
<text transform="translate(657.4,637.8) scale(0.94,1.0)" font-size="26.8" text-anchor="start" letter-spacing="-2">WT</text>
<text transform="translate(657.4,667.9) scale(0.94,1.0)" font-size="26.8" text-anchor="start" letter-spacing="1">Tg</text>
<text transform="translate(83.7,919.6) rotate(-90) scale(0.907,1)" font-size="31" text-anchor="start" stroke="#000" stroke-width="0.3">Relative expression, 2</text>
<text transform="translate(70,614.4) rotate(-90) scale(0.97,1)" font-size="24" text-anchor="start">-</text>
<text transform="translate(70.5,600.6) rotate(-90) scale(0.93,1)" font-size="22.5" text-anchor="start" style="font-weight:normal">&#916;</text>
<text transform="translate(70.5,585.5) rotate(-90) scale(0.915,1)" font-size="24.3" text-anchor="start">Ct</text>
<text transform="translate(1593.6,576) scale(0.938,1.0)" font-size="31" text-anchor="middle">mCD98</text>
<line x1="1395.7" y1="608.8" x2="1395.7" y2="873.2" stroke="#000" stroke-width="2.5" stroke-linecap="square"/>
<line x1="1388.2" y1="873.2" x2="1395.7" y2="873.2" stroke="#000" stroke-width="2.5" stroke-linecap="round"/>
<text transform="translate(1384.7,879.4) scale(0.905,1.0)" font-size="20.5" text-anchor="end" stroke="#000" stroke-width="0.45">0.00</text>
<line x1="1388.2" y1="829.13" x2="1395.7" y2="829.13" stroke="#000" stroke-width="2.5" stroke-linecap="round"/>
<text transform="translate(1384.7,835.33) scale(0.905,1.0)" font-size="20.5" text-anchor="end" stroke="#000" stroke-width="0.45">0.25</text>
<line x1="1388.2" y1="785.06" x2="1395.7" y2="785.06" stroke="#000" stroke-width="2.5" stroke-linecap="round"/>
<text transform="translate(1384.7,791.26) scale(0.905,1.0)" font-size="20.5" text-anchor="end" stroke="#000" stroke-width="0.45">0.50</text>
<line x1="1388.2" y1="740.99" x2="1395.7" y2="740.99" stroke="#000" stroke-width="2.5" stroke-linecap="round"/>
<text transform="translate(1384.7,747.19) scale(0.905,1.0)" font-size="20.5" text-anchor="end" stroke="#000" stroke-width="0.45">0.75</text>
<line x1="1388.2" y1="696.92" x2="1395.7" y2="696.92" stroke="#000" stroke-width="2.5" stroke-linecap="round"/>
<text transform="translate(1384.7,703.12) scale(0.905,1.0)" font-size="20.5" text-anchor="end" stroke="#000" stroke-width="0.45">1.00</text>
<line x1="1388.2" y1="652.85" x2="1395.7" y2="652.85" stroke="#000" stroke-width="2.5" stroke-linecap="round"/>
<text transform="translate(1384.7,659.05) scale(0.905,1.0)" font-size="20.5" text-anchor="end" stroke="#000" stroke-width="0.45">1.25</text>
<line x1="1388.2" y1="608.78" x2="1395.7" y2="608.78" stroke="#000" stroke-width="2.5" stroke-linecap="round"/>
<text transform="translate(1384.7,614.98) scale(0.905,1.0)" font-size="20.5" text-anchor="end" stroke="#000" stroke-width="0.45">1.50</text>
<line x1="1391.4" y1="851.17" x2="1395.7" y2="851.17" stroke="#000" stroke-width="2.5" stroke-linecap="round"/>
<line x1="1391.4" y1="807.1" x2="1395.7" y2="807.1" stroke="#000" stroke-width="2.5" stroke-linecap="round"/>
<line x1="1391.4" y1="763.03" x2="1395.7" y2="763.03" stroke="#000" stroke-width="2.5" stroke-linecap="round"/>
<line x1="1391.4" y1="718.96" x2="1395.7" y2="718.96" stroke="#000" stroke-width="2.5" stroke-linecap="round"/>
<line x1="1391.4" y1="674.88" x2="1395.7" y2="674.88" stroke="#000" stroke-width="2.5" stroke-linecap="round"/>
<line x1="1391.4" y1="630.82" x2="1395.7" y2="630.82" stroke="#000" stroke-width="2.5" stroke-linecap="round"/>
<line x1="1386.9" y1="873.2" x2="1792.76" y2="873.2" stroke="#000" stroke-width="2.5" stroke-linecap="butt"/>
<line x1="1395.4" y1="873.2" x2="1395.4" y2="880.4" stroke="#000" stroke-width="2.5" stroke-linecap="round"/>
<text transform="translate(1395.4,901.3) scale(0.905,1.0)" font-size="20.5" text-anchor="middle" stroke="#000" stroke-width="0.45">0</text>
<line x1="1425.87" y1="873.2" x2="1425.87" y2="880.4" stroke="#000" stroke-width="2.5" stroke-linecap="round"/>
<text transform="translate(1425.87,901.3) scale(0.905,1.0)" font-size="20.5" text-anchor="middle" stroke="#000" stroke-width="0.45">1</text>
<line x1="1456.34" y1="873.2" x2="1456.34" y2="880.4" stroke="#000" stroke-width="2.5" stroke-linecap="round"/>
<text transform="translate(1456.34,901.3) scale(0.905,1.0)" font-size="20.5" text-anchor="middle" stroke="#000" stroke-width="0.45">2</text>
<line x1="1486.81" y1="873.2" x2="1486.81" y2="880.4" stroke="#000" stroke-width="2.5" stroke-linecap="round"/>
<text transform="translate(1486.81,901.3) scale(0.905,1.0)" font-size="20.5" text-anchor="middle" stroke="#000" stroke-width="0.45">3</text>
<line x1="1517.28" y1="873.2" x2="1517.28" y2="880.4" stroke="#000" stroke-width="2.5" stroke-linecap="round"/>
<text transform="translate(1517.28,901.3) scale(0.905,1.0)" font-size="20.5" text-anchor="middle" stroke="#000" stroke-width="0.45">4</text>
<line x1="1547.75" y1="873.2" x2="1547.75" y2="880.4" stroke="#000" stroke-width="2.5" stroke-linecap="round"/>
<text transform="translate(1547.75,901.3) scale(0.905,1.0)" font-size="20.5" text-anchor="middle" stroke="#000" stroke-width="0.45">5</text>
<line x1="1578.22" y1="873.2" x2="1578.22" y2="880.4" stroke="#000" stroke-width="2.5" stroke-linecap="round"/>
<text transform="translate(1578.22,901.3) scale(0.905,1.0)" font-size="20.5" text-anchor="middle" stroke="#000" stroke-width="0.45">6</text>
<line x1="1608.69" y1="873.2" x2="1608.69" y2="880.4" stroke="#000" stroke-width="2.5" stroke-linecap="round"/>
<text transform="translate(1608.69,901.3) scale(0.905,1.0)" font-size="20.5" text-anchor="middle" stroke="#000" stroke-width="0.45">7</text>
<line x1="1639.16" y1="873.2" x2="1639.16" y2="880.4" stroke="#000" stroke-width="2.5" stroke-linecap="round"/>
<text transform="translate(1639.16,901.3) scale(0.905,1.0)" font-size="20.5" text-anchor="middle" stroke="#000" stroke-width="0.45">8</text>
<line x1="1669.63" y1="873.2" x2="1669.63" y2="880.4" stroke="#000" stroke-width="2.5" stroke-linecap="round"/>
<text transform="translate(1669.63,901.3) scale(0.905,1.0)" font-size="20.5" text-anchor="middle" stroke="#000" stroke-width="0.45">9</text>
<line x1="1700.1" y1="873.2" x2="1700.1" y2="880.4" stroke="#000" stroke-width="2.5" stroke-linecap="round"/>
<text transform="translate(1700.1,901.3) scale(0.905,1.0)" font-size="20.5" text-anchor="middle" stroke="#000" stroke-width="0.45">10</text>
<line x1="1730.57" y1="873.2" x2="1730.57" y2="880.4" stroke="#000" stroke-width="2.5" stroke-linecap="round"/>
<text transform="translate(1730.57,901.3) scale(0.905,1.0)" font-size="20.5" text-anchor="middle" stroke="#000" stroke-width="0.45">11</text>
<line x1="1761.04" y1="873.2" x2="1761.04" y2="880.4" stroke="#000" stroke-width="2.5" stroke-linecap="round"/>
<text transform="translate(1761.04,901.3) scale(0.905,1.0)" font-size="20.5" text-anchor="middle" stroke="#000" stroke-width="0.45">12</text>
<line x1="1791.51" y1="873.2" x2="1791.51" y2="880.4" stroke="#000" stroke-width="2.5" stroke-linecap="round"/>
<text transform="translate(1791.51,901.3) scale(0.905,1.0)" font-size="20.5" text-anchor="middle" stroke="#000" stroke-width="0.45">13</text>
<polyline points="1425.87,725.25 1456.34,728.49 1486.81,718.76 1517.28,708.38 1547.75,727.19 1578.22,702.87 1608.69,702.87 1639.16,707.41 1669.63,707.41 1700.1,751.19 1730.57,769.03 1761.04,829.36 1791.51,838.76" fill="none" stroke="#000" stroke-width="2.5" stroke-linejoin="round"/>
<circle cx="1425.87" cy="725.25" r="5.6" fill="#000"/>
<circle cx="1456.34" cy="728.49" r="5.6" fill="#000"/>
<circle cx="1486.81" cy="718.76" r="5.6" fill="#000"/>
<circle cx="1517.28" cy="708.38" r="5.6" fill="#000"/>
<circle cx="1547.75" cy="727.19" r="5.6" fill="#000"/>
<circle cx="1578.22" cy="702.87" r="5.6" fill="#000"/>
<circle cx="1608.69" cy="702.87" r="5.6" fill="#000"/>
<circle cx="1639.16" cy="707.41" r="5.6" fill="#000"/>
<circle cx="1669.63" cy="707.41" r="5.6" fill="#000"/>
<circle cx="1700.1" cy="751.19" r="5.6" fill="#000"/>
<circle cx="1730.57" cy="769.03" r="5.6" fill="#000"/>
<circle cx="1761.04" cy="829.36" r="5.6" fill="#000"/>
<circle cx="1791.51" cy="838.76" r="5.6" fill="#000"/>
<polyline points="1425.87,736.6 1456.34,739.19 1486.81,808.92 1517.28,804.06 1547.75,798.54 1578.22,788.81 1608.69,812.17 1639.16,831.63 1669.63,810.54 1700.1,800.81 1730.57,806.33 1761.04,854.98 1791.51,849.46" fill="none" stroke="#DA291C" stroke-width="2.5" stroke-linejoin="round"/>
<circle cx="1425.87" cy="736.6" r="5.4" fill="#fff" stroke="#DA291C" stroke-width="4"/>
<circle cx="1456.34" cy="739.19" r="5.4" fill="#fff" stroke="#DA291C" stroke-width="4"/>
<circle cx="1486.81" cy="808.92" r="5.4" fill="#fff" stroke="#DA291C" stroke-width="4"/>
<circle cx="1517.28" cy="804.06" r="5.4" fill="#fff" stroke="#DA291C" stroke-width="4"/>
<circle cx="1547.75" cy="798.54" r="5.4" fill="#fff" stroke="#DA291C" stroke-width="4"/>
<circle cx="1578.22" cy="788.81" r="5.4" fill="#fff" stroke="#DA291C" stroke-width="4"/>
<circle cx="1608.69" cy="812.17" r="5.4" fill="#fff" stroke="#DA291C" stroke-width="4"/>
<circle cx="1639.16" cy="831.63" r="5.4" fill="#fff" stroke="#DA291C" stroke-width="4"/>
<circle cx="1669.63" cy="810.54" r="5.4" fill="#fff" stroke="#DA291C" stroke-width="4"/>
<circle cx="1700.1" cy="800.81" r="5.4" fill="#fff" stroke="#DA291C" stroke-width="4"/>
<circle cx="1730.57" cy="806.33" r="5.4" fill="#fff" stroke="#DA291C" stroke-width="4"/>
<circle cx="1761.04" cy="854.98" r="5.4" fill="#fff" stroke="#DA291C" stroke-width="4"/>
<circle cx="1791.51" cy="849.46" r="5.4" fill="#fff" stroke="#DA291C" stroke-width="4"/>
<line x1="1817.5" y1="629" x2="1848.5" y2="629" stroke="#000" stroke-width="2.5" stroke-linecap="butt"/>
<circle cx="1833" cy="629" r="5.3" fill="#000"/>
<line x1="1817.5" y1="658.8" x2="1848.5" y2="658.8" stroke="#DA291C" stroke-width="2.5" stroke-linecap="butt"/>
<circle cx="1833" cy="658.8" r="5.3" fill="#fff" stroke="#DA291C" stroke-width="3.9"/>
<text transform="translate(1862.7,638.4) scale(0.94,1.0)" font-size="26.8" text-anchor="start" letter-spacing="-2">WT</text>
<text transform="translate(1862.7,668) scale(0.94,1.0)" font-size="26.8" text-anchor="start" letter-spacing="1">Tg</text>
<text transform="translate(386.9,1048.7) scale(0.91,1.0)" font-size="31" text-anchor="middle">hCD98</text>
<line x1="188.6" y1="1081.9" x2="188.6" y2="1265.8" stroke="#000" stroke-width="2.5" stroke-linecap="square"/>
<line x1="181.1" y1="1081.9" x2="188.6" y2="1081.9" stroke="#000" stroke-width="2.5" stroke-linecap="round"/>
<text transform="translate(177.6,1088.1) scale(0.905,1.0)" font-size="20.5" text-anchor="end" stroke="#000" stroke-width="0.45">175</text>
<line x1="181.1" y1="1110.2" x2="188.6" y2="1110.2" stroke="#000" stroke-width="2.5" stroke-linecap="round"/>
<text transform="translate(177.6,1116.4) scale(0.905,1.0)" font-size="20.5" text-anchor="end" stroke="#000" stroke-width="0.45">150</text>
<line x1="181.1" y1="1137.9" x2="188.6" y2="1137.9" stroke="#000" stroke-width="2.5" stroke-linecap="round"/>
<text transform="translate(177.6,1144.1) scale(0.905,1.0)" font-size="20.5" text-anchor="end" stroke="#000" stroke-width="0.45">125</text>
<line x1="181.1" y1="1165.5" x2="188.6" y2="1165.5" stroke="#000" stroke-width="2.5" stroke-linecap="round"/>
<text transform="translate(177.6,1171.7) scale(0.905,1.0)" font-size="20.5" text-anchor="end" stroke="#000" stroke-width="0.45">100</text>
<line x1="181.1" y1="1193.1" x2="188.6" y2="1193.1" stroke="#000" stroke-width="2.5" stroke-linecap="round"/>
<text transform="translate(177.6,1199.3) scale(0.905,1.0)" font-size="20.5" text-anchor="end" stroke="#000" stroke-width="0.45">75</text>
<line x1="181.1" y1="1220.8" x2="188.6" y2="1220.8" stroke="#000" stroke-width="2.5" stroke-linecap="round"/>
<text transform="translate(177.6,1227) scale(0.905,1.0)" font-size="20.5" text-anchor="end" stroke="#000" stroke-width="0.45">50</text>
<line x1="181.1" y1="1248.8" x2="188.6" y2="1248.8" stroke="#000" stroke-width="2.5" stroke-linecap="round"/>
<text transform="translate(177.6,1255) scale(0.905,1.0)" font-size="20.5" text-anchor="end" stroke="#000" stroke-width="0.45">25</text>
<line x1="184.3" y1="1096.05" x2="188.6" y2="1096.05" stroke="#000" stroke-width="2.5" stroke-linecap="round"/>
<line x1="184.3" y1="1124.05" x2="188.6" y2="1124.05" stroke="#000" stroke-width="2.5" stroke-linecap="round"/>
<line x1="184.3" y1="1151.7" x2="188.6" y2="1151.7" stroke="#000" stroke-width="2.5" stroke-linecap="round"/>
<line x1="184.3" y1="1179.3" x2="188.6" y2="1179.3" stroke="#000" stroke-width="2.5" stroke-linecap="round"/>
<line x1="184.3" y1="1206.95" x2="188.6" y2="1206.95" stroke="#000" stroke-width="2.5" stroke-linecap="round"/>
<line x1="184.3" y1="1234.8" x2="188.6" y2="1234.8" stroke="#000" stroke-width="2.5" stroke-linecap="round"/>
<line x1="184.3" y1="1263.1" x2="188.6" y2="1263.1" stroke="#000" stroke-width="2.5" stroke-linecap="round"/>
<line x1="184" y1="1265.8" x2="194" y2="1265.8" stroke="#000" stroke-width="2.5" stroke-linecap="round"/>
<line x1="188.6" y1="1286.2" x2="188.6" y2="1347.2" stroke="#000" stroke-width="2.5" stroke-linecap="square"/>
<line x1="181.1" y1="1286.2" x2="188.6" y2="1286.2" stroke="#000" stroke-width="2.5" stroke-linecap="round"/>
<text transform="translate(177.6,1292.4) scale(0.905,1.0)" font-size="20.5" text-anchor="end" stroke="#000" stroke-width="0.45">4</text>
<line x1="181.1" y1="1316.6" x2="188.6" y2="1316.6" stroke="#000" stroke-width="2.5" stroke-linecap="round"/>
<text transform="translate(177.6,1322.8) scale(0.905,1.0)" font-size="20.5" text-anchor="end" stroke="#000" stroke-width="0.45">2</text>
<line x1="181.1" y1="1347.2" x2="188.6" y2="1347.2" stroke="#000" stroke-width="2.5" stroke-linecap="round"/>
<text transform="translate(177.6,1353.4) scale(0.905,1.0)" font-size="20.5" text-anchor="end" stroke="#000" stroke-width="0.45">0</text>
<line x1="188.6" y1="1286.2" x2="194.6" y2="1286.2" stroke="#000" stroke-width="2.5" stroke-linecap="round"/>
<line x1="179.8" y1="1347.2" x2="586.6" y2="1347.2" stroke="#000" stroke-width="2.5" stroke-linecap="butt"/>
<line x1="188.2" y1="1347.2" x2="188.2" y2="1354.4" stroke="#000" stroke-width="2.5" stroke-linecap="round"/>
<text transform="translate(188.2,1375.3) scale(0.905,1.0)" font-size="20.5" text-anchor="middle" stroke="#000" stroke-width="0.45">0</text>
<line x1="218.75" y1="1347.2" x2="218.75" y2="1354.4" stroke="#000" stroke-width="2.5" stroke-linecap="round"/>
<text transform="translate(218.75,1375.3) scale(0.905,1.0)" font-size="20.5" text-anchor="middle" stroke="#000" stroke-width="0.45">1</text>
<line x1="249.3" y1="1347.2" x2="249.3" y2="1354.4" stroke="#000" stroke-width="2.5" stroke-linecap="round"/>
<text transform="translate(249.3,1375.3) scale(0.905,1.0)" font-size="20.5" text-anchor="middle" stroke="#000" stroke-width="0.45">2</text>
<line x1="279.85" y1="1347.2" x2="279.85" y2="1354.4" stroke="#000" stroke-width="2.5" stroke-linecap="round"/>
<text transform="translate(279.85,1375.3) scale(0.905,1.0)" font-size="20.5" text-anchor="middle" stroke="#000" stroke-width="0.45">3</text>
<line x1="310.4" y1="1347.2" x2="310.4" y2="1354.4" stroke="#000" stroke-width="2.5" stroke-linecap="round"/>
<text transform="translate(310.4,1375.3) scale(0.905,1.0)" font-size="20.5" text-anchor="middle" stroke="#000" stroke-width="0.45">4</text>
<line x1="340.95" y1="1347.2" x2="340.95" y2="1354.4" stroke="#000" stroke-width="2.5" stroke-linecap="round"/>
<text transform="translate(340.95,1375.3) scale(0.905,1.0)" font-size="20.5" text-anchor="middle" stroke="#000" stroke-width="0.45">5</text>
<line x1="371.5" y1="1347.2" x2="371.5" y2="1354.4" stroke="#000" stroke-width="2.5" stroke-linecap="round"/>
<text transform="translate(371.5,1375.3) scale(0.905,1.0)" font-size="20.5" text-anchor="middle" stroke="#000" stroke-width="0.45">6</text>
<line x1="402.05" y1="1347.2" x2="402.05" y2="1354.4" stroke="#000" stroke-width="2.5" stroke-linecap="round"/>
<text transform="translate(402.05,1375.3) scale(0.905,1.0)" font-size="20.5" text-anchor="middle" stroke="#000" stroke-width="0.45">7</text>
<line x1="432.6" y1="1347.2" x2="432.6" y2="1354.4" stroke="#000" stroke-width="2.5" stroke-linecap="round"/>
<text transform="translate(432.6,1375.3) scale(0.905,1.0)" font-size="20.5" text-anchor="middle" stroke="#000" stroke-width="0.45">8</text>
<line x1="463.15" y1="1347.2" x2="463.15" y2="1354.4" stroke="#000" stroke-width="2.5" stroke-linecap="round"/>
<text transform="translate(463.15,1375.3) scale(0.905,1.0)" font-size="20.5" text-anchor="middle" stroke="#000" stroke-width="0.45">9</text>
<line x1="493.7" y1="1347.2" x2="493.7" y2="1354.4" stroke="#000" stroke-width="2.5" stroke-linecap="round"/>
<text transform="translate(493.7,1375.3) scale(0.905,1.0)" font-size="20.5" text-anchor="middle" stroke="#000" stroke-width="0.45">10</text>
<line x1="524.25" y1="1347.2" x2="524.25" y2="1354.4" stroke="#000" stroke-width="2.5" stroke-linecap="round"/>
<text transform="translate(524.25,1375.3) scale(0.905,1.0)" font-size="20.5" text-anchor="middle" stroke="#000" stroke-width="0.45">11</text>
<line x1="554.8" y1="1347.2" x2="554.8" y2="1354.4" stroke="#000" stroke-width="2.5" stroke-linecap="round"/>
<text transform="translate(554.8,1375.3) scale(0.905,1.0)" font-size="20.5" text-anchor="middle" stroke="#000" stroke-width="0.45">12</text>
<line x1="585.35" y1="1347.2" x2="585.35" y2="1354.4" stroke="#000" stroke-width="2.5" stroke-linecap="round"/>
<text transform="translate(585.35,1375.3) scale(0.905,1.0)" font-size="20.5" text-anchor="middle" stroke="#000" stroke-width="0.45">13</text>
<polyline points="218.75,1346.41 249.3,1347.15 279.85,1347.15 310.4,1310.3 340.95,1347.15 371.5,1347.15 402.05,1342.36 432.6,1347.15 463.15,1341.62 493.7,1327.99 524.25,1344.57 554.8,1347.15 585.35,1347.15" fill="none" stroke="#000" stroke-width="2.5" stroke-linejoin="round"/>
<circle cx="218.75" cy="1346.41" r="5.6" fill="#000"/>
<circle cx="249.3" cy="1347.15" r="5.6" fill="#000"/>
<circle cx="279.85" cy="1347.15" r="5.6" fill="#000"/>
<circle cx="310.4" cy="1310.3" r="5.6" fill="#000"/>
<circle cx="340.95" cy="1347.15" r="5.6" fill="#000"/>
<circle cx="371.5" cy="1347.15" r="5.6" fill="#000"/>
<circle cx="402.05" cy="1342.36" r="5.6" fill="#000"/>
<circle cx="432.6" cy="1347.15" r="5.6" fill="#000"/>
<circle cx="463.15" cy="1341.62" r="5.6" fill="#000"/>
<circle cx="493.7" cy="1327.99" r="5.6" fill="#000"/>
<circle cx="524.25" cy="1344.57" r="5.6" fill="#000"/>
<circle cx="554.8" cy="1347.15" r="5.6" fill="#000"/>
<circle cx="585.35" cy="1347.15" r="5.6" fill="#000"/>
<polyline points="218.75,1145.2 249.3,1137.1 279.85,1222.6 310.4,1217.4 340.95,1222.6 371.5,1203.8 402.05,1212.7 432.6,1208.2 463.15,1224.4 493.7,1209.7 524.25,1218.9 554.8,1263.5 585.35,1263.5" fill="none" stroke="#DA291C" stroke-width="2.5" stroke-linejoin="round"/>
<circle cx="218.75" cy="1145.2" r="5.4" fill="#fff" stroke="#DA291C" stroke-width="4"/>
<circle cx="249.3" cy="1137.1" r="5.4" fill="#fff" stroke="#DA291C" stroke-width="4"/>
<circle cx="279.85" cy="1222.6" r="5.4" fill="#fff" stroke="#DA291C" stroke-width="4"/>
<circle cx="310.4" cy="1217.4" r="5.4" fill="#fff" stroke="#DA291C" stroke-width="4"/>
<circle cx="340.95" cy="1222.6" r="5.4" fill="#fff" stroke="#DA291C" stroke-width="4"/>
<circle cx="371.5" cy="1203.8" r="5.4" fill="#fff" stroke="#DA291C" stroke-width="4"/>
<circle cx="402.05" cy="1212.7" r="5.4" fill="#fff" stroke="#DA291C" stroke-width="4"/>
<circle cx="432.6" cy="1208.2" r="5.4" fill="#fff" stroke="#DA291C" stroke-width="4"/>
<circle cx="463.15" cy="1224.4" r="5.4" fill="#fff" stroke="#DA291C" stroke-width="4"/>
<circle cx="493.7" cy="1209.7" r="5.4" fill="#fff" stroke="#DA291C" stroke-width="4"/>
<circle cx="524.25" cy="1218.9" r="5.4" fill="#fff" stroke="#DA291C" stroke-width="4"/>
<circle cx="554.8" cy="1263.5" r="5.4" fill="#fff" stroke="#DA291C" stroke-width="4"/>
<circle cx="585.35" cy="1263.5" r="5.4" fill="#fff" stroke="#DA291C" stroke-width="4"/>
<line x1="611.1" y1="1102.1" x2="642.1" y2="1102.1" stroke="#000" stroke-width="2.5" stroke-linecap="butt"/>
<circle cx="626.6" cy="1102.1" r="5.3" fill="#000"/>
<line x1="611.1" y1="1131.6" x2="642.1" y2="1131.6" stroke="#DA291C" stroke-width="2.5" stroke-linecap="butt"/>
<circle cx="626.6" cy="1131.6" r="5.3" fill="#fff" stroke="#DA291C" stroke-width="3.9"/>
<text transform="translate(657.7,1111.5) scale(0.94,1.0)" font-size="26.8" text-anchor="start" letter-spacing="-2">WT</text>
<text transform="translate(657.7,1140.8) scale(0.94,1.0)" font-size="26.8" text-anchor="start" letter-spacing="1">Tg</text>
<text transform="translate(83.7,1393.8) rotate(-90) scale(0.907,1)" font-size="31" text-anchor="start" stroke="#000" stroke-width="0.3">Relative expression, 2</text>
<text transform="translate(70,1087.7) rotate(-90) scale(0.97,1)" font-size="24" text-anchor="start">-</text>
<text transform="translate(70.5,1073.9) rotate(-90) scale(0.93,1)" font-size="22.5" text-anchor="start" style="font-weight:normal">&#916;</text>
<text transform="translate(70.5,1058.6) rotate(-90) scale(0.915,1)" font-size="24.3" text-anchor="start">Ct</text>
<text transform="translate(387,1415.9) scale(0.918,1.0)" font-size="30.5" text-anchor="middle" stroke="#000" stroke-width="0.3">Fractions</text>
<text transform="translate(1018.5,1051.3) scale(0.91,1.0)" font-size="31" text-anchor="middle">Muc2</text>
<line x1="819.5" y1="1084.4" x2="819.5" y2="1349" stroke="#000" stroke-width="2.5" stroke-linecap="square"/>
<line x1="812" y1="1349" x2="819.5" y2="1349" stroke="#000" stroke-width="2.5" stroke-linecap="round"/>
<text transform="translate(808.5,1355.2) scale(0.905,1.0)" font-size="20.5" text-anchor="end" stroke="#000" stroke-width="0.45">0.0</text>
<line x1="812" y1="1296.07" x2="819.5" y2="1296.07" stroke="#000" stroke-width="2.5" stroke-linecap="round"/>
<text transform="translate(808.5,1302.27) scale(0.905,1.0)" font-size="20.5" text-anchor="end" stroke="#000" stroke-width="0.45">1.0</text>
<line x1="812" y1="1243.14" x2="819.5" y2="1243.14" stroke="#000" stroke-width="2.5" stroke-linecap="round"/>
<text transform="translate(808.5,1249.34) scale(0.905,1.0)" font-size="20.5" text-anchor="end" stroke="#000" stroke-width="0.45">2.0</text>
<line x1="812" y1="1190.21" x2="819.5" y2="1190.21" stroke="#000" stroke-width="2.5" stroke-linecap="round"/>
<text transform="translate(808.5,1196.41) scale(0.905,1.0)" font-size="20.5" text-anchor="end" stroke="#000" stroke-width="0.45">3.0</text>
<line x1="812" y1="1137.28" x2="819.5" y2="1137.28" stroke="#000" stroke-width="2.5" stroke-linecap="round"/>
<text transform="translate(808.5,1143.48) scale(0.905,1.0)" font-size="20.5" text-anchor="end" stroke="#000" stroke-width="0.45">4.0</text>
<line x1="812" y1="1084.35" x2="819.5" y2="1084.35" stroke="#000" stroke-width="2.5" stroke-linecap="round"/>
<text transform="translate(808.5,1090.55) scale(0.905,1.0)" font-size="20.5" text-anchor="end" stroke="#000" stroke-width="0.45">5.0</text>
<line x1="815.2" y1="1331.36" x2="819.5" y2="1331.36" stroke="#000" stroke-width="2.5" stroke-linecap="round"/>
<line x1="815.2" y1="1313.71" x2="819.5" y2="1313.71" stroke="#000" stroke-width="2.5" stroke-linecap="round"/>
<line x1="815.2" y1="1278.43" x2="819.5" y2="1278.43" stroke="#000" stroke-width="2.5" stroke-linecap="round"/>
<line x1="815.2" y1="1260.78" x2="819.5" y2="1260.78" stroke="#000" stroke-width="2.5" stroke-linecap="round"/>
<line x1="815.2" y1="1225.5" x2="819.5" y2="1225.5" stroke="#000" stroke-width="2.5" stroke-linecap="round"/>
<line x1="815.2" y1="1207.85" x2="819.5" y2="1207.85" stroke="#000" stroke-width="2.5" stroke-linecap="round"/>
<line x1="815.2" y1="1172.57" x2="819.5" y2="1172.57" stroke="#000" stroke-width="2.5" stroke-linecap="round"/>
<line x1="815.2" y1="1154.92" x2="819.5" y2="1154.92" stroke="#000" stroke-width="2.5" stroke-linecap="round"/>
<line x1="815.2" y1="1119.64" x2="819.5" y2="1119.64" stroke="#000" stroke-width="2.5" stroke-linecap="round"/>
<line x1="815.2" y1="1101.99" x2="819.5" y2="1101.99" stroke="#000" stroke-width="2.5" stroke-linecap="round"/>
<line x1="810.7" y1="1349" x2="1216.95" y2="1349" stroke="#000" stroke-width="2.5" stroke-linecap="butt"/>
<line x1="819.2" y1="1349" x2="819.2" y2="1356.2" stroke="#000" stroke-width="2.5" stroke-linecap="round"/>
<text transform="translate(819.2,1377.1) scale(0.905,1.0)" font-size="20.5" text-anchor="middle" stroke="#000" stroke-width="0.45">0</text>
<line x1="849.7" y1="1349" x2="849.7" y2="1356.2" stroke="#000" stroke-width="2.5" stroke-linecap="round"/>
<text transform="translate(849.7,1377.1) scale(0.905,1.0)" font-size="20.5" text-anchor="middle" stroke="#000" stroke-width="0.45">1</text>
<line x1="880.2" y1="1349" x2="880.2" y2="1356.2" stroke="#000" stroke-width="2.5" stroke-linecap="round"/>
<text transform="translate(880.2,1377.1) scale(0.905,1.0)" font-size="20.5" text-anchor="middle" stroke="#000" stroke-width="0.45">2</text>
<line x1="910.7" y1="1349" x2="910.7" y2="1356.2" stroke="#000" stroke-width="2.5" stroke-linecap="round"/>
<text transform="translate(910.7,1377.1) scale(0.905,1.0)" font-size="20.5" text-anchor="middle" stroke="#000" stroke-width="0.45">3</text>
<line x1="941.2" y1="1349" x2="941.2" y2="1356.2" stroke="#000" stroke-width="2.5" stroke-linecap="round"/>
<text transform="translate(941.2,1377.1) scale(0.905,1.0)" font-size="20.5" text-anchor="middle" stroke="#000" stroke-width="0.45">4</text>
<line x1="971.7" y1="1349" x2="971.7" y2="1356.2" stroke="#000" stroke-width="2.5" stroke-linecap="round"/>
<text transform="translate(971.7,1377.1) scale(0.905,1.0)" font-size="20.5" text-anchor="middle" stroke="#000" stroke-width="0.45">5</text>
<line x1="1002.2" y1="1349" x2="1002.2" y2="1356.2" stroke="#000" stroke-width="2.5" stroke-linecap="round"/>
<text transform="translate(1002.2,1377.1) scale(0.905,1.0)" font-size="20.5" text-anchor="middle" stroke="#000" stroke-width="0.45">6</text>
<line x1="1032.7" y1="1349" x2="1032.7" y2="1356.2" stroke="#000" stroke-width="2.5" stroke-linecap="round"/>
<text transform="translate(1032.7,1377.1) scale(0.905,1.0)" font-size="20.5" text-anchor="middle" stroke="#000" stroke-width="0.45">7</text>
<line x1="1063.2" y1="1349" x2="1063.2" y2="1356.2" stroke="#000" stroke-width="2.5" stroke-linecap="round"/>
<text transform="translate(1063.2,1377.1) scale(0.905,1.0)" font-size="20.5" text-anchor="middle" stroke="#000" stroke-width="0.45">8</text>
<line x1="1093.7" y1="1349" x2="1093.7" y2="1356.2" stroke="#000" stroke-width="2.5" stroke-linecap="round"/>
<text transform="translate(1093.7,1377.1) scale(0.905,1.0)" font-size="20.5" text-anchor="middle" stroke="#000" stroke-width="0.45">9</text>
<line x1="1124.2" y1="1349" x2="1124.2" y2="1356.2" stroke="#000" stroke-width="2.5" stroke-linecap="round"/>
<text transform="translate(1124.2,1377.1) scale(0.905,1.0)" font-size="20.5" text-anchor="middle" stroke="#000" stroke-width="0.45">10</text>
<line x1="1154.7" y1="1349" x2="1154.7" y2="1356.2" stroke="#000" stroke-width="2.5" stroke-linecap="round"/>
<text transform="translate(1154.7,1377.1) scale(0.905,1.0)" font-size="20.5" text-anchor="middle" stroke="#000" stroke-width="0.45">11</text>
<line x1="1185.2" y1="1349" x2="1185.2" y2="1356.2" stroke="#000" stroke-width="2.5" stroke-linecap="round"/>
<text transform="translate(1185.2,1377.1) scale(0.905,1.0)" font-size="20.5" text-anchor="middle" stroke="#000" stroke-width="0.45">12</text>
<line x1="1215.7" y1="1349" x2="1215.7" y2="1356.2" stroke="#000" stroke-width="2.5" stroke-linecap="round"/>
<text transform="translate(1215.7,1377.1) scale(0.905,1.0)" font-size="20.5" text-anchor="middle" stroke="#000" stroke-width="0.45">13</text>
<polyline points="849.7,1191.66 880.2,1173.97 910.7,1148.18 941.2,1138.97 971.7,1147.07 1002.2,1200.87 1032.7,1193.5 1063.2,1206.4 1093.7,1138.97 1124.2,1200.5 1154.7,1210.82 1185.2,1232.93 1215.7,1245.82" fill="none" stroke="#000" stroke-width="2.5" stroke-linejoin="round"/>
<circle cx="849.7" cy="1191.66" r="5.6" fill="#000"/>
<circle cx="880.2" cy="1173.97" r="5.6" fill="#000"/>
<circle cx="910.7" cy="1148.18" r="5.6" fill="#000"/>
<circle cx="941.2" cy="1138.97" r="5.6" fill="#000"/>
<circle cx="971.7" cy="1147.07" r="5.6" fill="#000"/>
<circle cx="1002.2" cy="1200.87" r="5.6" fill="#000"/>
<circle cx="1032.7" cy="1193.5" r="5.6" fill="#000"/>
<circle cx="1063.2" cy="1206.4" r="5.6" fill="#000"/>
<circle cx="1093.7" cy="1138.97" r="5.6" fill="#000"/>
<circle cx="1124.2" cy="1200.5" r="5.6" fill="#000"/>
<circle cx="1154.7" cy="1210.82" r="5.6" fill="#000"/>
<circle cx="1185.2" cy="1232.93" r="5.6" fill="#000"/>
<circle cx="1215.7" cy="1245.82" r="5.6" fill="#000"/>
<polyline points="849.7,1282.67 880.2,1264.98 910.7,1256.88 941.2,1246.56 971.7,1263.51 1002.2,1232.93 1032.7,1255.4 1063.2,1243.98 1093.7,1212.66 1124.2,1197.92 1154.7,1190.55 1185.2,1229.24 1215.7,1235.87" fill="none" stroke="#DA291C" stroke-width="2.5" stroke-linejoin="round"/>
<circle cx="849.7" cy="1282.67" r="5.4" fill="#fff" stroke="#DA291C" stroke-width="4"/>
<circle cx="880.2" cy="1264.98" r="5.4" fill="#fff" stroke="#DA291C" stroke-width="4"/>
<circle cx="910.7" cy="1256.88" r="5.4" fill="#fff" stroke="#DA291C" stroke-width="4"/>
<circle cx="941.2" cy="1246.56" r="5.4" fill="#fff" stroke="#DA291C" stroke-width="4"/>
<circle cx="971.7" cy="1263.51" r="5.4" fill="#fff" stroke="#DA291C" stroke-width="4"/>
<circle cx="1002.2" cy="1232.93" r="5.4" fill="#fff" stroke="#DA291C" stroke-width="4"/>
<circle cx="1032.7" cy="1255.4" r="5.4" fill="#fff" stroke="#DA291C" stroke-width="4"/>
<circle cx="1063.2" cy="1243.98" r="5.4" fill="#fff" stroke="#DA291C" stroke-width="4"/>
<circle cx="1093.7" cy="1212.66" r="5.4" fill="#fff" stroke="#DA291C" stroke-width="4"/>
<circle cx="1124.2" cy="1197.92" r="5.4" fill="#fff" stroke="#DA291C" stroke-width="4"/>
<circle cx="1154.7" cy="1190.55" r="5.4" fill="#fff" stroke="#DA291C" stroke-width="4"/>
<circle cx="1185.2" cy="1229.24" r="5.4" fill="#fff" stroke="#DA291C" stroke-width="4"/>
<circle cx="1215.7" cy="1235.87" r="5.4" fill="#fff" stroke="#DA291C" stroke-width="4"/>
<line x1="1241.6" y1="1104.5" x2="1272.6" y2="1104.5" stroke="#000" stroke-width="2.5" stroke-linecap="butt"/>
<circle cx="1257.1" cy="1104.5" r="5.3" fill="#000"/>
<line x1="1241.6" y1="1134.7" x2="1272.6" y2="1134.7" stroke="#DA291C" stroke-width="2.5" stroke-linecap="butt"/>
<circle cx="1257.1" cy="1134.7" r="5.3" fill="#fff" stroke="#DA291C" stroke-width="3.9"/>
<text transform="translate(1287.4,1113.9) scale(0.94,1.0)" font-size="26.8" text-anchor="start" letter-spacing="-2">WT</text>
<text transform="translate(1287.4,1143.9) scale(0.94,1.0)" font-size="26.8" text-anchor="start" letter-spacing="1">Tg</text>
<text transform="translate(1017.9,1417.5) scale(0.918,1.0)" font-size="30.5" text-anchor="middle" stroke="#000" stroke-width="0.3">Fractions</text>
<text transform="translate(1593.5,1051.2) scale(0.91,1.0)" font-size="31" text-anchor="middle">Villin</text>
<line x1="1395" y1="1084.3" x2="1395" y2="1349.5" stroke="#000" stroke-width="2.5" stroke-linecap="square"/>
<line x1="1387.5" y1="1349.5" x2="1395" y2="1349.5" stroke="#000" stroke-width="2.5" stroke-linecap="round"/>
<text transform="translate(1384,1355.7) scale(0.905,1.0)" font-size="20.5" text-anchor="end" stroke="#000" stroke-width="0.45">0.0</text>
<line x1="1387.5" y1="1283.2" x2="1395" y2="1283.2" stroke="#000" stroke-width="2.5" stroke-linecap="round"/>
<text transform="translate(1384,1289.4) scale(0.905,1.0)" font-size="20.5" text-anchor="end" stroke="#000" stroke-width="0.45">2.0</text>
<line x1="1387.5" y1="1216.9" x2="1395" y2="1216.9" stroke="#000" stroke-width="2.5" stroke-linecap="round"/>
<text transform="translate(1384,1223.1) scale(0.905,1.0)" font-size="20.5" text-anchor="end" stroke="#000" stroke-width="0.45">4.0</text>
<line x1="1387.5" y1="1150.6" x2="1395" y2="1150.6" stroke="#000" stroke-width="2.5" stroke-linecap="round"/>
<text transform="translate(1384,1156.8) scale(0.905,1.0)" font-size="20.5" text-anchor="end" stroke="#000" stroke-width="0.45">6.0</text>
<line x1="1387.5" y1="1084.3" x2="1395" y2="1084.3" stroke="#000" stroke-width="2.5" stroke-linecap="round"/>
<text transform="translate(1384,1090.5) scale(0.905,1.0)" font-size="20.5" text-anchor="end" stroke="#000" stroke-width="0.45">8.0</text>
<line x1="1390.7" y1="1316.35" x2="1395" y2="1316.35" stroke="#000" stroke-width="2.5" stroke-linecap="round"/>
<line x1="1390.7" y1="1250.05" x2="1395" y2="1250.05" stroke="#000" stroke-width="2.5" stroke-linecap="round"/>
<line x1="1390.7" y1="1183.75" x2="1395" y2="1183.75" stroke="#000" stroke-width="2.5" stroke-linecap="round"/>
<line x1="1390.7" y1="1117.45" x2="1395" y2="1117.45" stroke="#000" stroke-width="2.5" stroke-linecap="round"/>
<line x1="1386.2" y1="1349.5" x2="1792.63" y2="1349.5" stroke="#000" stroke-width="2.5" stroke-linecap="butt"/>
<line x1="1394.1" y1="1349.5" x2="1394.1" y2="1356.7" stroke="#000" stroke-width="2.5" stroke-linecap="round"/>
<text transform="translate(1394.1,1377.6) scale(0.905,1.0)" font-size="20.5" text-anchor="middle" stroke="#000" stroke-width="0.45">0</text>
<line x1="1424.66" y1="1349.5" x2="1424.66" y2="1356.7" stroke="#000" stroke-width="2.5" stroke-linecap="round"/>
<text transform="translate(1424.66,1377.6) scale(0.905,1.0)" font-size="20.5" text-anchor="middle" stroke="#000" stroke-width="0.45">1</text>
<line x1="1455.22" y1="1349.5" x2="1455.22" y2="1356.7" stroke="#000" stroke-width="2.5" stroke-linecap="round"/>
<text transform="translate(1455.22,1377.6) scale(0.905,1.0)" font-size="20.5" text-anchor="middle" stroke="#000" stroke-width="0.45">2</text>
<line x1="1485.78" y1="1349.5" x2="1485.78" y2="1356.7" stroke="#000" stroke-width="2.5" stroke-linecap="round"/>
<text transform="translate(1485.78,1377.6) scale(0.905,1.0)" font-size="20.5" text-anchor="middle" stroke="#000" stroke-width="0.45">3</text>
<line x1="1516.34" y1="1349.5" x2="1516.34" y2="1356.7" stroke="#000" stroke-width="2.5" stroke-linecap="round"/>
<text transform="translate(1516.34,1377.6) scale(0.905,1.0)" font-size="20.5" text-anchor="middle" stroke="#000" stroke-width="0.45">4</text>
<line x1="1546.9" y1="1349.5" x2="1546.9" y2="1356.7" stroke="#000" stroke-width="2.5" stroke-linecap="round"/>
<text transform="translate(1546.9,1377.6) scale(0.905,1.0)" font-size="20.5" text-anchor="middle" stroke="#000" stroke-width="0.45">5</text>
<line x1="1577.46" y1="1349.5" x2="1577.46" y2="1356.7" stroke="#000" stroke-width="2.5" stroke-linecap="round"/>
<text transform="translate(1577.46,1377.6) scale(0.905,1.0)" font-size="20.5" text-anchor="middle" stroke="#000" stroke-width="0.45">6</text>
<line x1="1608.02" y1="1349.5" x2="1608.02" y2="1356.7" stroke="#000" stroke-width="2.5" stroke-linecap="round"/>
<text transform="translate(1608.02,1377.6) scale(0.905,1.0)" font-size="20.5" text-anchor="middle" stroke="#000" stroke-width="0.45">7</text>
<line x1="1638.58" y1="1349.5" x2="1638.58" y2="1356.7" stroke="#000" stroke-width="2.5" stroke-linecap="round"/>
<text transform="translate(1638.58,1377.6) scale(0.905,1.0)" font-size="20.5" text-anchor="middle" stroke="#000" stroke-width="0.45">8</text>
<line x1="1669.14" y1="1349.5" x2="1669.14" y2="1356.7" stroke="#000" stroke-width="2.5" stroke-linecap="round"/>
<text transform="translate(1669.14,1377.6) scale(0.905,1.0)" font-size="20.5" text-anchor="middle" stroke="#000" stroke-width="0.45">9</text>
<line x1="1699.7" y1="1349.5" x2="1699.7" y2="1356.7" stroke="#000" stroke-width="2.5" stroke-linecap="round"/>
<text transform="translate(1699.7,1377.6) scale(0.905,1.0)" font-size="20.5" text-anchor="middle" stroke="#000" stroke-width="0.45">10</text>
<line x1="1730.26" y1="1349.5" x2="1730.26" y2="1356.7" stroke="#000" stroke-width="2.5" stroke-linecap="round"/>
<text transform="translate(1730.26,1377.6) scale(0.905,1.0)" font-size="20.5" text-anchor="middle" stroke="#000" stroke-width="0.45">11</text>
<line x1="1760.82" y1="1349.5" x2="1760.82" y2="1356.7" stroke="#000" stroke-width="2.5" stroke-linecap="round"/>
<text transform="translate(1760.82,1377.6) scale(0.905,1.0)" font-size="20.5" text-anchor="middle" stroke="#000" stroke-width="0.45">12</text>
<line x1="1791.38" y1="1349.5" x2="1791.38" y2="1356.7" stroke="#000" stroke-width="2.5" stroke-linecap="round"/>
<text transform="translate(1791.38,1377.6) scale(0.905,1.0)" font-size="20.5" text-anchor="middle" stroke="#000" stroke-width="0.45">13</text>
<polyline points="1424.66,1151.35 1455.22,1257.52 1485.78,1205.61 1516.34,1199.55 1546.9,1196.85 1577.46,1198.87 1608.02,1231.57 1638.58,1245.05 1669.14,1236.63 1699.7,1312.47 1730.26,1315.16 1760.82,1310.78 1791.38,1321.91" fill="none" stroke="#000" stroke-width="2.5" stroke-linejoin="round"/>
<circle cx="1424.66" cy="1151.35" r="5.6" fill="#000"/>
<circle cx="1455.22" cy="1257.52" r="5.6" fill="#000"/>
<circle cx="1485.78" cy="1205.61" r="5.6" fill="#000"/>
<circle cx="1516.34" cy="1199.55" r="5.6" fill="#000"/>
<circle cx="1546.9" cy="1196.85" r="5.6" fill="#000"/>
<circle cx="1577.46" cy="1198.87" r="5.6" fill="#000"/>
<circle cx="1608.02" cy="1231.57" r="5.6" fill="#000"/>
<circle cx="1638.58" cy="1245.05" r="5.6" fill="#000"/>
<circle cx="1669.14" cy="1236.63" r="5.6" fill="#000"/>
<circle cx="1699.7" cy="1312.47" r="5.6" fill="#000"/>
<circle cx="1730.26" cy="1315.16" r="5.6" fill="#000"/>
<circle cx="1760.82" cy="1310.78" r="5.6" fill="#000"/>
<circle cx="1791.38" cy="1321.91" r="5.6" fill="#000"/>
<polyline points="1424.66,1269.66 1455.22,1259.21 1485.78,1232.24 1516.34,1281.46 1546.9,1266.29 1577.46,1296.63 1608.02,1264.6 1638.58,1219.1 1669.14,1275.39 1699.7,1305.05 1730.26,1284.49 1760.82,1306.74 1791.38,1321.91" fill="none" stroke="#DA291C" stroke-width="2.5" stroke-linejoin="round"/>
<circle cx="1424.66" cy="1269.66" r="5.4" fill="#fff" stroke="#DA291C" stroke-width="4"/>
<circle cx="1455.22" cy="1259.21" r="5.4" fill="#fff" stroke="#DA291C" stroke-width="4"/>
<circle cx="1485.78" cy="1232.24" r="5.4" fill="#fff" stroke="#DA291C" stroke-width="4"/>
<circle cx="1516.34" cy="1281.46" r="5.4" fill="#fff" stroke="#DA291C" stroke-width="4"/>
<circle cx="1546.9" cy="1266.29" r="5.4" fill="#fff" stroke="#DA291C" stroke-width="4"/>
<circle cx="1577.46" cy="1296.63" r="5.4" fill="#fff" stroke="#DA291C" stroke-width="4"/>
<circle cx="1608.02" cy="1264.6" r="5.4" fill="#fff" stroke="#DA291C" stroke-width="4"/>
<circle cx="1638.58" cy="1219.1" r="5.4" fill="#fff" stroke="#DA291C" stroke-width="4"/>
<circle cx="1669.14" cy="1275.39" r="5.4" fill="#fff" stroke="#DA291C" stroke-width="4"/>
<circle cx="1699.7" cy="1305.05" r="5.4" fill="#fff" stroke="#DA291C" stroke-width="4"/>
<circle cx="1730.26" cy="1284.49" r="5.4" fill="#fff" stroke="#DA291C" stroke-width="4"/>
<circle cx="1760.82" cy="1306.74" r="5.4" fill="#fff" stroke="#DA291C" stroke-width="4"/>
<circle cx="1791.38" cy="1321.91" r="5.4" fill="#fff" stroke="#DA291C" stroke-width="4"/>
<line x1="1817.5" y1="1104.5" x2="1848.5" y2="1104.5" stroke="#000" stroke-width="2.5" stroke-linecap="butt"/>
<circle cx="1833" cy="1104.5" r="5.3" fill="#000"/>
<line x1="1817.5" y1="1134.8" x2="1848.5" y2="1134.8" stroke="#DA291C" stroke-width="2.5" stroke-linecap="butt"/>
<circle cx="1833" cy="1134.8" r="5.3" fill="#fff" stroke="#DA291C" stroke-width="3.9"/>
<text transform="translate(1862.9,1113.9) scale(0.94,1.0)" font-size="26.8" text-anchor="start" letter-spacing="-2">WT</text>
<text transform="translate(1862.9,1144) scale(0.94,1.0)" font-size="26.8" text-anchor="start" letter-spacing="1">Tg</text>
<text transform="translate(1592.9,1417.5) scale(0.918,1.0)" font-size="30.5" text-anchor="middle" stroke="#000" stroke-width="0.3">Fractions</text>
</svg>
</body></html>
